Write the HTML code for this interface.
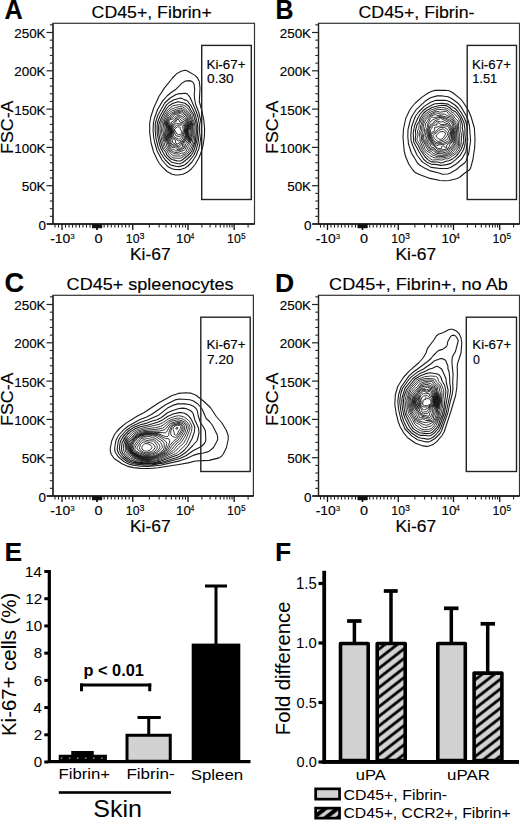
<!DOCTYPE html>
<html><head><meta charset="utf-8"><style>
html,body{margin:0;padding:0;background:#fff;}
svg{display:block;}
text{font-family:"Liberation Sans",sans-serif;stroke:#000;stroke-width:0.15px;}
text.ef{stroke:none;}
</style></head><body>
<svg width="520" height="821" viewBox="0 0 520 821">
<defs>
<pattern id="hatch" patternUnits="userSpaceOnUse" x="0" y="0" width="20" height="7.57" patternTransform="rotate(-37.95)">
<rect width="20" height="7.57" fill="#d4d4d4"/>
<rect y="1.65" width="20" height="2.8" fill="#000"/>
</pattern>
<pattern id="hatch2" patternUnits="userSpaceOnUse" x="0" y="0" width="20" height="7.57" patternTransform="rotate(-37.95)">
<rect width="20" height="7.57" fill="#000"/>
<rect y="0" width="20" height="2.75" fill="#d4d4d4"/><rect y="6.92" width="20" height="0.7" fill="#d4d4d4"/>
</pattern>
<filter id="soft" x="-20%" y="-20%" width="140%" height="140%"><feGaussianBlur stdDeviation="0.9"/></filter></defs>
<rect width="520" height="821" fill="#fff"/>
<path d="M181.0,158.0 180.0,158.3 174.0,158.0 172.0,157.5 168.6,154.0 167.1,151.0 164.5,148.3 163.6,146.5 162.8,143.0 161.6,140.0 161.3,137.0 160.4,134.5 160.1,128.5 160.4,124.5 162.4,119.0 165.1,114.0 168.1,109.5 173.0,105.7 179.5,104.6 184.0,105.3 187.7,108.0 191.9,114.5 192.5,117.5 194.3,122.5 195.0,126.5 194.8,136.0 194.2,141.5 193.7,143.0 189.6,151.5 186.5,154.5 181.0,158.0 M180.5,156.1 173.0,155.8 169.5,152.1 165.8,147.5 165.0,146.0 164.2,142.5 162.8,139.5 162.8,136.5 161.7,133.5 161.5,129.5 162.2,123.5 163.4,120.0 166.6,114.0 168.5,111.5 170.0,110.0 172.0,108.9 175.5,107.5 180.0,106.6 182.5,106.9 184.7,108.0 190.0,114.0 193.1,122.5 193.8,126.5 193.7,135.5 192.5,142.5 189.7,147.5 188.5,150.5 187.4,152.0 185.5,153.7 180.5,156.1 M179.0,154.1 173.5,153.7 170.0,151.0 168.8,149.5 166.8,146.0 165.9,142.5 163.9,139.5 163.8,136.0 162.7,129.5 164.6,120.0 168.0,113.9 169.5,112.4 171.8,111.0 176.5,109.2 180.5,108.4 182.5,108.7 183.9,109.5 187.0,112.3 189.5,115.5 192.5,124.0 192.7,134.5 191.1,141.5 188.2,146.5 186.0,151.5 184.0,153.0 181.5,153.2 179.0,154.1 M177.5,152.6 174.0,152.2 170.5,150.0 169.5,148.8 167.0,142.0 164.9,139.0 164.0,129.5 165.0,126.5 165.0,123.0 165.6,120.5 169.2,114.5 175.0,111.1 181.5,109.8 183.5,110.7 186.5,113.5 188.9,116.5 189.5,119.5 191.0,122.0 191.7,124.0 191.6,135.0 189.6,142.0 187.0,145.1 185.1,149.5 184.0,150.3 177.5,152.6 M177.0,151.0 175.5,150.7 173.8,149.5 171.5,149.1 170.5,148.4 167.7,141.0 165.9,138.5 165.4,135.0 165.3,130.0 166.7,126.0 166.2,122.5 167.4,119.0 171.5,114.5 175.0,112.3 181.5,110.9 183.0,111.7 187.8,116.5 188.4,120.0 190.5,123.3 190.8,125.5 190.2,132.0 190.4,135.0 188.7,141.5 186.0,143.5 184.3,148.0 181.5,149.8 177.0,151.0 M178.5,149.5 177.0,149.5 175.0,147.3 172.0,147.4 171.0,146.7 169.2,143.0 168.6,140.5 166.6,137.5 166.2,135.0 166.4,130.0 168.1,125.5 167.1,122.0 167.4,120.5 168.5,118.7 171.0,116.9 173.0,114.5 174.5,113.5 181.5,112.0 182.5,112.6 187.0,117.0 187.5,120.5 189.6,124.5 189.9,127.5 188.8,131.0 189.1,135.0 187.6,140.5 185.5,141.9 183.9,143.5 184.0,146.0 183.3,147.5 181.0,149.1 178.5,149.5 M180.5,148.1 178.0,148.2 175.5,146.3 172.5,146.0 171.7,145.5 170.0,142.6 169.5,139.7 167.8,137.0 167.3,134.0 167.5,129.5 169.3,125.0 168.0,122.0 168.5,119.9 169.5,118.9 172.7,117.5 174.0,115.3 175.0,114.5 180.5,113.5 181.5,113.8 185.7,117.5 188.7,125.5 188.9,127.0 187.8,130.5 188.1,134.5 186.5,139.0 185.2,141.0 182.5,143.5 182.5,146.5 181.7,147.5 180.5,148.1 M179.5,146.7 178.0,146.8 175.5,145.2 173.0,144.8 172.0,144.2 171.0,142.5 170.7,139.5 168.9,136.0 168.3,134.0 168.5,129.0 170.2,125.0 170.0,123.7 169.0,121.9 169.1,120.5 170.0,119.7 173.5,118.9 176.8,115.5 178.0,115.0 182.0,116.4 184.7,118.5 186.7,122.5 187.9,127.0 187.1,130.5 187.4,133.5 187.2,135.0 184.7,140.5 181.6,143.0 180.7,146.0 179.5,146.7 M178.5,145.5 177.5,145.4 172.5,142.6 172.3,140.0 169.8,135.5 169.3,133.5 169.4,129.0 171.0,125.5 171.3,122.0 173.5,121.0 176.5,117.5 178.5,116.5 180.5,117.3 185.0,120.8 186.0,123.0 186.9,127.5 186.5,130.5 186.7,134.0 184.2,140.0 183.5,141.0 180.7,142.5 179.5,144.8 178.5,145.5 M178.0,144.0 177.0,143.9 175.8,143.0 175.4,142.0 175.7,140.5 173.0,138.8 171.6,137.0 170.6,134.5 170.2,129.5 172.6,123.5 174.8,121.5 176.5,118.6 178.0,117.8 179.5,118.3 181.5,120.7 184.0,121.7 185.0,122.8 186.0,127.5 186.1,132.5 186.0,133.5 183.2,140.0 182.5,140.7 179.7,142.0 178.0,144.0 M180.0,140.6 178.5,140.9 173.1,137.5 171.9,135.0 171.0,129.5 173.5,124.0 175.7,122.0 177.0,119.7 178.0,119.2 179.0,120.0 179.7,122.0 183.0,122.7 184.1,123.5 185.3,128.5 185.1,133.0 184.0,134.5 182.0,139.3 180.0,140.6 M179.5,139.1 178.5,139.1 174.4,137.0 173.4,135.0 172.0,130.0 172.2,128.5 174.7,124.5 176.5,123.2 179.0,123.9 182.5,123.9 183.5,124.8 184.0,126.5 184.5,130.0 184.4,132.0 181.6,137.0 179.5,139.1 M180.5,136.1 179.0,136.5 176.0,135.8 173.4,131.0 173.1,129.5 173.4,128.5 176.5,125.2 181.5,125.0 182.7,126.0 183.3,131.5 181.8,134.5 180.5,136.1 M180.0,134.6 178.5,134.7 176.9,134.0 174.5,130.0 175.0,128.5 177.5,126.9 179.9,127.0 180.5,127.5 180.0,129.0 181.5,130.9 181.9,132.0 181.3,133.5 180.0,134.6" fill="none" stroke="#222" stroke-width="0.9" stroke-linejoin="round"/><path d="M178.5,175.0 175.5,175.0 172.0,174.2 167.0,171.5 162.0,166.7 159.4,163.5 157.6,160.5 153.6,152.0 151.1,143.0 149.7,133.0 149.7,123.0 150.9,116.5 153.7,108.0 158.9,96.5 164.5,87.9 172.5,78.0 176.5,73.9 181.0,71.2 185.0,70.2 187.0,70.7 195.0,75.4 197.6,78.0 199.3,81.5 200.0,88.0 199.3,101.5 202.2,112.0 203.8,120.0 204.6,128.5 204.4,136.5 203.3,144.0 201.7,150.5 199.1,157.5 195.4,164.0 191.3,169.0 187.5,172.1 183.0,174.3 178.5,175.0 M180.5,169.6 175.0,169.5 172.0,168.7 169.0,167.3 167.2,166.0 162.0,160.0 157.1,151.0 154.6,142.0 153.6,137.0 153.1,130.5 153.4,123.0 154.3,118.5 157.6,109.5 162.5,101.1 167.0,96.0 170.5,93.0 176.0,89.2 182.0,83.1 185.5,81.0 189.0,80.6 191.0,81.1 192.6,82.0 193.7,83.5 194.2,85.0 194.7,90.0 194.2,94.5 194.8,100.5 195.7,104.5 198.8,112.5 200.6,120.0 201.4,125.5 201.4,132.5 199.8,144.5 198.7,149.0 195.9,156.0 191.9,162.0 188.0,166.0 185.0,168.0 180.5,169.6 M179.0,166.6 177.0,166.5 172.0,165.4 169.9,164.5 165.3,160.0 161.2,154.0 158.2,147.5 155.9,138.0 155.2,130.5 155.3,123.5 157.7,115.5 164.7,103.0 170.1,98.0 176.0,94.6 178.0,93.9 185.5,93.2 187.4,94.0 190.0,97.3 196.4,112.0 198.0,117.0 199.4,124.5 199.4,132.0 198.0,143.0 196.1,150.0 193.7,155.5 188.5,161.6 185.3,164.5 183.5,165.4 179.0,166.6 M180.0,163.6 178.0,163.8 171.5,162.2 167.0,158.2 164.8,155.5 160.7,148.0 158.9,142.0 157.2,133.5 157.1,125.5 157.5,122.5 160.0,116.0 166.5,104.9 170.0,101.9 174.0,99.7 180.5,98.0 182.0,98.4 184.0,99.6 187.0,100.5 191.0,105.7 194.5,112.6 195.8,116.5 197.3,123.0 197.8,128.0 197.2,138.0 196.6,141.5 194.4,149.0 192.7,153.0 191.0,155.5 186.5,159.5 182.5,162.7 180.0,163.6 M181.5,160.5 180.0,161.0 177.0,160.9 172.0,159.5 170.4,158.5 167.0,155.2 165.7,152.0 163.5,149.5 162.4,147.5 160.1,140.0 158.8,134.0 158.6,127.0 158.9,124.0 161.5,117.5 164.2,112.5 167.0,108.0 168.8,106.0 172.5,103.5 178.0,101.7 185.0,103.3 189.0,106.5 190.7,110.0 193.3,114.0 195.8,122.5 196.3,126.5 196.4,131.0 195.3,141.5 191.8,151.0 190.8,152.5 187.8,155.5 181.5,160.5" fill="none" stroke="#1a1a1a" stroke-width="1.1" stroke-linejoin="round"/>
<rect x="53.00" y="23.30" width="201.50" height="200.70" fill="none" stroke="#333" stroke-width="1.2"/>
<line x1="53.00" y1="23.30" x2="53.00" y2="224.00" stroke="#222" stroke-width="1.3" stroke-linecap="butt"/>
<line x1="47.00" y1="224.00" x2="254.50" y2="224.00" stroke="#111" stroke-width="1.4" stroke-linecap="butt"/>
<line x1="46.50" y1="224.00" x2="53.00" y2="224.00" stroke="#222" stroke-width="1.2" stroke-linecap="butt"/>
<line x1="49.80" y1="216.34" x2="53.00" y2="216.34" stroke="#2a2a2a" stroke-width="1.1" stroke-linecap="butt"/>
<line x1="49.80" y1="208.68" x2="53.00" y2="208.68" stroke="#2a2a2a" stroke-width="1.1" stroke-linecap="butt"/>
<line x1="49.80" y1="201.02" x2="53.00" y2="201.02" stroke="#2a2a2a" stroke-width="1.1" stroke-linecap="butt"/>
<line x1="49.80" y1="193.36" x2="53.00" y2="193.36" stroke="#2a2a2a" stroke-width="1.1" stroke-linecap="butt"/>
<line x1="46.50" y1="185.70" x2="53.00" y2="185.70" stroke="#222" stroke-width="1.2" stroke-linecap="butt"/>
<line x1="49.80" y1="178.04" x2="53.00" y2="178.04" stroke="#2a2a2a" stroke-width="1.1" stroke-linecap="butt"/>
<line x1="49.80" y1="170.38" x2="53.00" y2="170.38" stroke="#2a2a2a" stroke-width="1.1" stroke-linecap="butt"/>
<line x1="49.80" y1="162.72" x2="53.00" y2="162.72" stroke="#2a2a2a" stroke-width="1.1" stroke-linecap="butt"/>
<line x1="49.80" y1="155.06" x2="53.00" y2="155.06" stroke="#2a2a2a" stroke-width="1.1" stroke-linecap="butt"/>
<line x1="46.50" y1="147.40" x2="53.00" y2="147.40" stroke="#222" stroke-width="1.2" stroke-linecap="butt"/>
<line x1="49.80" y1="139.74" x2="53.00" y2="139.74" stroke="#2a2a2a" stroke-width="1.1" stroke-linecap="butt"/>
<line x1="49.80" y1="132.08" x2="53.00" y2="132.08" stroke="#2a2a2a" stroke-width="1.1" stroke-linecap="butt"/>
<line x1="49.80" y1="124.42" x2="53.00" y2="124.42" stroke="#2a2a2a" stroke-width="1.1" stroke-linecap="butt"/>
<line x1="49.80" y1="116.76" x2="53.00" y2="116.76" stroke="#2a2a2a" stroke-width="1.1" stroke-linecap="butt"/>
<line x1="46.50" y1="109.10" x2="53.00" y2="109.10" stroke="#222" stroke-width="1.2" stroke-linecap="butt"/>
<line x1="49.80" y1="101.44" x2="53.00" y2="101.44" stroke="#2a2a2a" stroke-width="1.1" stroke-linecap="butt"/>
<line x1="49.80" y1="93.78" x2="53.00" y2="93.78" stroke="#2a2a2a" stroke-width="1.1" stroke-linecap="butt"/>
<line x1="49.80" y1="86.12" x2="53.00" y2="86.12" stroke="#2a2a2a" stroke-width="1.1" stroke-linecap="butt"/>
<line x1="49.80" y1="78.46" x2="53.00" y2="78.46" stroke="#2a2a2a" stroke-width="1.1" stroke-linecap="butt"/>
<line x1="46.50" y1="70.80" x2="53.00" y2="70.80" stroke="#222" stroke-width="1.2" stroke-linecap="butt"/>
<line x1="49.80" y1="63.14" x2="53.00" y2="63.14" stroke="#2a2a2a" stroke-width="1.1" stroke-linecap="butt"/>
<line x1="49.80" y1="55.48" x2="53.00" y2="55.48" stroke="#2a2a2a" stroke-width="1.1" stroke-linecap="butt"/>
<line x1="49.80" y1="47.82" x2="53.00" y2="47.82" stroke="#2a2a2a" stroke-width="1.1" stroke-linecap="butt"/>
<line x1="49.80" y1="40.16" x2="53.00" y2="40.16" stroke="#2a2a2a" stroke-width="1.1" stroke-linecap="butt"/>
<line x1="46.50" y1="32.50" x2="53.00" y2="32.50" stroke="#222" stroke-width="1.2" stroke-linecap="butt"/>
<line x1="49.80" y1="24.84" x2="53.00" y2="24.84" stroke="#2a2a2a" stroke-width="1.1" stroke-linecap="butt"/>
<line x1="62.00" y1="224.00" x2="62.00" y2="230.00" stroke="#111" stroke-width="1.3" stroke-linecap="butt"/>
<line x1="97.00" y1="224.00" x2="97.00" y2="230.00" stroke="#111" stroke-width="1.3" stroke-linecap="butt"/>
<line x1="132.75" y1="224.00" x2="132.75" y2="230.00" stroke="#111" stroke-width="1.3" stroke-linecap="butt"/>
<line x1="188.00" y1="224.00" x2="188.00" y2="230.00" stroke="#111" stroke-width="1.3" stroke-linecap="butt"/>
<line x1="234.20" y1="224.00" x2="234.20" y2="230.00" stroke="#111" stroke-width="1.3" stroke-linecap="butt"/>
<line x1="93.50" y1="224.00" x2="93.50" y2="227.60" stroke="#222" stroke-width="1.1" stroke-linecap="butt"/>
<line x1="100.58" y1="224.00" x2="100.58" y2="227.60" stroke="#222" stroke-width="1.1" stroke-linecap="butt"/>
<line x1="90.00" y1="224.00" x2="90.00" y2="227.60" stroke="#222" stroke-width="1.1" stroke-linecap="butt"/>
<line x1="104.15" y1="224.00" x2="104.15" y2="227.60" stroke="#222" stroke-width="1.1" stroke-linecap="butt"/>
<line x1="149.38" y1="224.00" x2="149.38" y2="227.60" stroke="#222" stroke-width="1.1" stroke-linecap="butt"/>
<line x1="201.91" y1="224.00" x2="201.91" y2="227.60" stroke="#222" stroke-width="1.1" stroke-linecap="butt"/>
<line x1="86.50" y1="224.00" x2="86.50" y2="227.60" stroke="#222" stroke-width="1.1" stroke-linecap="butt"/>
<line x1="107.72" y1="224.00" x2="107.72" y2="227.60" stroke="#222" stroke-width="1.1" stroke-linecap="butt"/>
<line x1="159.11" y1="224.00" x2="159.11" y2="227.60" stroke="#222" stroke-width="1.1" stroke-linecap="butt"/>
<line x1="210.04" y1="224.00" x2="210.04" y2="227.60" stroke="#222" stroke-width="1.1" stroke-linecap="butt"/>
<line x1="83.00" y1="224.00" x2="83.00" y2="227.60" stroke="#222" stroke-width="1.1" stroke-linecap="butt"/>
<line x1="111.30" y1="224.00" x2="111.30" y2="227.60" stroke="#222" stroke-width="1.1" stroke-linecap="butt"/>
<line x1="166.01" y1="224.00" x2="166.01" y2="227.60" stroke="#222" stroke-width="1.1" stroke-linecap="butt"/>
<line x1="215.82" y1="224.00" x2="215.82" y2="227.60" stroke="#222" stroke-width="1.1" stroke-linecap="butt"/>
<line x1="79.50" y1="224.00" x2="79.50" y2="227.60" stroke="#222" stroke-width="1.1" stroke-linecap="butt"/>
<line x1="114.88" y1="224.00" x2="114.88" y2="227.60" stroke="#222" stroke-width="1.1" stroke-linecap="butt"/>
<line x1="171.37" y1="224.00" x2="171.37" y2="227.60" stroke="#222" stroke-width="1.1" stroke-linecap="butt"/>
<line x1="220.29" y1="224.00" x2="220.29" y2="227.60" stroke="#222" stroke-width="1.1" stroke-linecap="butt"/>
<line x1="76.00" y1="224.00" x2="76.00" y2="227.60" stroke="#222" stroke-width="1.1" stroke-linecap="butt"/>
<line x1="118.45" y1="224.00" x2="118.45" y2="227.60" stroke="#222" stroke-width="1.1" stroke-linecap="butt"/>
<line x1="175.74" y1="224.00" x2="175.74" y2="227.60" stroke="#222" stroke-width="1.1" stroke-linecap="butt"/>
<line x1="223.95" y1="224.00" x2="223.95" y2="227.60" stroke="#222" stroke-width="1.1" stroke-linecap="butt"/>
<line x1="72.50" y1="224.00" x2="72.50" y2="227.60" stroke="#222" stroke-width="1.1" stroke-linecap="butt"/>
<line x1="122.03" y1="224.00" x2="122.03" y2="227.60" stroke="#222" stroke-width="1.1" stroke-linecap="butt"/>
<line x1="179.44" y1="224.00" x2="179.44" y2="227.60" stroke="#222" stroke-width="1.1" stroke-linecap="butt"/>
<line x1="227.04" y1="224.00" x2="227.04" y2="227.60" stroke="#222" stroke-width="1.1" stroke-linecap="butt"/>
<line x1="69.00" y1="224.00" x2="69.00" y2="227.60" stroke="#222" stroke-width="1.1" stroke-linecap="butt"/>
<line x1="125.60" y1="224.00" x2="125.60" y2="227.60" stroke="#222" stroke-width="1.1" stroke-linecap="butt"/>
<line x1="182.65" y1="224.00" x2="182.65" y2="227.60" stroke="#222" stroke-width="1.1" stroke-linecap="butt"/>
<line x1="229.72" y1="224.00" x2="229.72" y2="227.60" stroke="#222" stroke-width="1.1" stroke-linecap="butt"/>
<line x1="65.50" y1="224.00" x2="65.50" y2="227.60" stroke="#222" stroke-width="1.1" stroke-linecap="butt"/>
<line x1="129.18" y1="224.00" x2="129.18" y2="227.60" stroke="#222" stroke-width="1.1" stroke-linecap="butt"/>
<line x1="185.47" y1="224.00" x2="185.47" y2="227.60" stroke="#222" stroke-width="1.1" stroke-linecap="butt"/>
<line x1="232.09" y1="224.00" x2="232.09" y2="227.60" stroke="#222" stroke-width="1.1" stroke-linecap="butt"/>
<line x1="248.11" y1="224.00" x2="248.11" y2="227.60" stroke="#222" stroke-width="1.1" stroke-linecap="butt"/>
<line x1="58.50" y1="224.00" x2="58.50" y2="227.60" stroke="#222" stroke-width="1.1" stroke-linecap="butt"/>
<line x1="55.00" y1="224.00" x2="55.00" y2="227.60" stroke="#222" stroke-width="1.1" stroke-linecap="butt"/>
<rect x="92.00" y="224.00" width="10.20" height="4.20" fill="#111"/>
<line x1="97.00" y1="224.00" x2="97.00" y2="230.00" stroke="#111" stroke-width="1.4" stroke-linecap="butt"/>
<text font-size="13.43" transform="translate(38.45,229.52)" fill="#000">0</text>
<text font-size="13.43" transform="translate(21.67,191.22)" fill="#000">50K</text>
<text font-size="13.43" transform="translate(14.21,152.92)" fill="#000">100K</text>
<text font-size="13.43" transform="translate(14.21,114.62)" fill="#000">150K</text>
<text font-size="13.43" transform="translate(14.21,76.32)" fill="#000">200K</text>
<text font-size="13.43" transform="translate(14.21,38.02)" fill="#000">250K</text>
<text font-size="13.43" transform="translate(50.17,242.67) scale(1.0385,1)" fill="#000">-10</text>
<text font-size="7.92" transform="translate(70.52,238.52) scale(0.9309,1)" fill="#000">3</text>
<text font-size="13.29" transform="translate(94.62,242.67) scale(1.0876,1)" fill="#000">0</text>
<text font-size="13.43" transform="translate(125.83,242.67) scale(0.9146,1)" fill="#000">10</text>
<text font-size="8.48" transform="translate(139.41,238.52) scale(1.0550,1)" fill="#000">3</text>
<text font-size="13.43" transform="translate(176.00,242.67) scale(0.9930,1)" fill="#000">10</text>
<text font-size="8.73" transform="translate(190.45,238.60) scale(0.7715,1)" fill="#000">4</text>
<text font-size="13.43" transform="translate(227.08,242.67) scale(0.9146,1)" fill="#000">10</text>
<text font-size="8.60" transform="translate(240.91,238.51) scale(0.9789,1)" fill="#000">5</text>
<text font-size="15.65" transform="translate(129.96,259.84) scale(1.1156,1)" fill="#000">Ki-67</text>
<text font-size="16.68" transform="translate(12.93,153.97) rotate(-90) scale(1.0675,1)" fill="#000">FSC-A</text>
<rect x="201.70" y="45.40" width="49.60" height="154.10" fill="none" stroke="#222" stroke-width="1.4"/>
<text font-size="12.65" transform="translate(206.50,68.97) scale(1.0547,1)" fill="#000">Ki-67+</text>
<text font-size="13.29" transform="translate(207.05,83.47) scale(1.0277,1)" fill="#000">0.30</text>
<text font-size="17.13" transform="translate(91.61,18.22) scale(1.0354,1)" fill="#000">CD45+, Fibrin+</text>
<text font-weight="bold" font-size="27.78" transform="translate(4.47,18.70) scale(0.9079,1)" fill="#000">A</text>
<path d="M442.0,160.1 438.0,159.7 432.5,160.0 431.0,159.3 426.5,155.5 424.5,153.5 422.5,150.5 419.9,144.5 417.3,140.5 416.9,139.0 418.0,135.0 417.4,131.0 418.8,128.5 419.2,124.5 421.5,119.0 424.5,114.7 430.5,110.2 437.0,107.9 441.5,107.4 446.0,108.1 448.5,109.0 451.0,111.5 454.1,113.5 458.5,118.5 460.0,122.0 460.4,125.5 460.2,129.5 461.2,133.0 461.5,136.0 461.5,141.5 460.9,145.0 459.1,149.5 456.5,153.2 449.0,158.4 447.5,158.8 445.0,158.8 442.0,160.1 M442.0,158.0 434.0,157.8 429.7,155.5 425.0,151.7 423.6,149.5 420.1,141.0 419.9,137.0 419.1,132.5 420.4,129.0 420.6,126.0 421.5,123.0 422.5,119.9 423.7,118.0 426.3,115.0 430.0,112.3 437.5,109.3 446.0,109.9 448.0,110.6 450.0,113.0 453.0,114.9 455.0,118.3 458.0,121.0 458.5,122.5 458.6,129.5 459.7,136.0 459.8,144.0 459.1,146.5 455.4,152.0 454.5,152.9 448.5,156.7 442.0,158.0 M443.0,156.5 436.0,156.3 432.0,154.7 430.0,152.8 426.6,151.0 425.4,149.5 421.4,140.0 421.6,137.0 420.6,133.0 421.7,130.0 421.8,127.0 422.5,124.0 424.2,119.5 428.6,115.0 432.5,112.8 436.5,111.2 440.0,112.2 445.5,111.4 447.0,111.7 448.8,114.5 452.0,116.2 454.5,120.1 456.9,122.5 457.2,123.5 458.6,144.0 458.1,146.0 457.1,147.5 455.3,149.0 453.5,151.5 451.0,153.6 447.5,155.5 443.0,156.5 M445.0,155.1 442.0,155.4 437.0,155.0 433.0,153.2 431.3,151.5 428.0,150.1 422.7,140.0 422.7,137.0 422.1,133.5 423.0,130.5 423.2,127.0 424.0,123.3 425.7,120.0 429.0,116.2 432.5,114.1 435.5,112.9 437.0,113.0 440.0,114.1 445.0,114.1 447.0,115.7 450.5,116.8 455.4,123.0 456.1,124.5 457.3,145.0 456.5,146.2 454.0,148.1 452.1,151.0 450.5,152.5 446.9,154.5 445.0,155.1 M445.0,154.0 437.0,153.4 435.0,152.4 433.0,150.3 429.5,149.3 426.3,144.5 423.9,140.0 423.6,135.0 424.3,132.5 424.5,128.7 425.4,126.5 425.4,124.0 427.6,121.0 429.5,117.3 431.0,116.1 433.5,115.0 435.5,114.7 438.0,115.6 441.5,115.7 449.5,117.9 452.8,121.0 455.2,125.5 455.5,127.5 455.2,130.5 455.8,133.0 456.0,144.5 452.9,147.5 450.5,150.8 446.5,153.5 445.0,154.0 M445.5,152.6 441.5,152.0 438.0,152.3 436.3,152.0 434.0,149.3 431.0,148.7 429.8,148.0 428.4,145.0 426.0,141.5 425.7,139.5 426.7,138.0 425.0,135.5 426.0,132.5 426.0,129.5 427.4,127.0 427.4,124.5 427.7,123.5 429.4,121.0 430.2,118.5 431.5,117.3 432.5,117.1 434.5,117.5 440.0,116.5 441.5,116.7 448.0,119.0 451.5,121.0 453.0,123.0 454.4,127.5 454.2,130.5 454.9,135.5 455.0,143.5 454.2,145.0 450.5,149.0 445.5,152.6 M445.0,151.0 442.0,150.9 438.0,151.3 436.8,151.0 434.0,147.9 431.0,146.9 429.5,143.0 427.7,141.5 428.3,138.5 427.1,134.5 427.2,130.0 428.6,127.0 428.8,124.0 432.5,119.7 440.0,117.3 441.0,117.3 445.5,119.2 450.8,122.0 451.6,123.0 453.5,128.0 453.4,131.0 454.1,136.0 454.1,140.5 453.6,143.5 450.0,148.0 445.0,151.0 M440.5,150.0 437.5,149.8 433.5,145.6 431.5,144.5 430.7,142.0 429.5,139.9 428.5,135.0 428.1,130.0 429.7,127.0 430.5,124.5 432.5,123.7 434.0,121.5 436.0,120.3 438.5,119.5 440.5,118.2 449.0,122.7 450.2,125.0 452.1,127.0 452.6,128.5 453.3,138.5 452.8,141.0 449.9,144.5 449.2,146.5 448.1,148.0 445.5,149.4 440.5,150.0 M441.5,148.5 440.0,148.7 437.0,148.0 435.6,147.0 434.3,145.0 432.5,143.9 430.3,139.5 429.3,136.0 429.4,132.0 429.0,130.0 429.4,129.0 431.5,125.7 433.5,124.3 435.6,122.0 437.5,121.2 441.5,122.0 443.0,121.5 445.5,123.0 448.0,123.8 451.5,128.0 452.2,131.5 452.0,135.0 452.4,138.5 451.8,140.5 450.0,142.7 446.9,145.0 446.5,146.0 446.6,147.5 446.0,148.0 445.0,147.8 444.7,146.5 444.2,146.0 442.5,145.9 441.5,146.5 441.9,148.0 441.5,148.5 M437.0,145.8 436.5,145.8 432.9,143.0 431.4,140.0 430.0,136.0 430.5,129.8 431.7,128.5 432.4,126.5 433.5,125.5 435.0,124.9 437.0,125.1 436.9,123.5 437.5,122.7 439.0,123.0 441.0,124.7 444.5,124.3 447.5,125.0 449.6,127.0 451.5,131.5 451.4,138.5 450.8,140.0 449.5,141.8 447.5,143.0 443.8,144.5 438.5,144.9 437.0,145.8 M437.0,144.0 436.0,143.8 433.0,141.8 430.7,136.0 430.9,134.0 431.5,132.6 434.9,130.5 434.5,127.5 435.0,127.2 437.0,127.2 439.5,126.2 444.0,125.6 447.5,126.4 448.6,127.5 450.7,132.0 449.4,140.0 448.0,141.4 442.5,143.5 437.0,144.0 M440.0,142.6 437.0,142.8 434.0,141.0 431.8,136.5 431.7,134.5 432.5,133.4 436.0,131.7 438.5,128.3 440.0,127.7 444.0,127.2 447.7,129.5 449.1,133.0 448.9,135.5 447.5,139.2 444.5,141.0 440.0,142.6 M438.5,141.5 436.9,141.0 434.5,138.3 433.3,136.5 433.2,135.5 433.9,134.5 436.5,132.8 439.0,130.2 442.0,129.1 443.5,129.1 446.9,132.0 447.5,133.5 447.5,135.1 443.5,139.9 438.5,141.5 M441.5,139.1 440.0,139.4 439.0,139.1 436.3,137.0 436.0,136.0 436.4,135.0 439.5,132.2 441.0,131.6 443.0,131.5 445.1,132.5 445.6,134.0 443.5,137.5 441.5,139.1" fill="none" stroke="#222" stroke-width="0.9" stroke-linejoin="round"/><path d="M449.0,180.5 445.0,180.8 440.0,180.5 430.0,178.4 420.0,174.8 415.5,172.8 412.8,170.0 408.7,164.0 405.6,156.5 404.2,151.0 403.0,137.5 403.5,129.0 405.7,118.5 409.5,110.5 411.8,107.0 415.3,103.0 422.0,97.1 428.5,92.7 432.0,91.2 435.0,90.4 445.5,90.2 449.0,90.7 452.5,92.5 460.5,98.9 463.1,102.0 468.7,111.0 470.8,116.0 474.4,128.0 475.0,138.5 474.7,147.5 472.9,159.5 470.5,168.3 469.0,170.3 464.8,173.0 459.4,177.5 456.5,178.7 449.0,180.5 M447.5,174.0 442.5,174.2 439.0,173.0 429.5,170.6 424.5,168.1 419.5,165.0 417.5,163.0 411.4,153.0 408.5,144.0 407.8,136.5 408.0,129.5 410.5,119.5 412.3,115.5 416.5,109.3 425.0,101.3 430.5,97.8 437.0,95.9 441.0,95.7 448.0,96.8 452.0,98.8 458.0,103.2 461.0,106.9 466.4,116.0 468.2,120.5 469.4,125.5 470.6,140.5 468.7,153.5 466.0,161.0 464.6,163.0 459.5,166.8 456.5,169.5 450.0,173.2 447.5,174.0 M447.5,168.5 440.0,168.5 431.0,167.4 423.0,162.4 421.5,161.0 417.0,155.0 413.1,146.5 411.2,141.5 410.8,135.5 411.5,127.0 414.5,118.5 415.9,115.5 418.6,112.0 424.5,106.1 431.0,102.0 435.5,100.4 445.5,100.3 449.5,101.5 455.0,105.0 458.0,108.0 461.1,112.5 464.1,117.5 466.1,122.5 467.2,129.5 467.1,134.5 467.8,139.5 465.7,152.0 462.0,158.7 457.0,163.5 450.5,167.5 447.5,168.5 M443.0,165.1 440.5,165.4 437.5,164.6 431.0,164.1 427.5,162.6 423.8,159.5 419.0,151.8 413.7,142.0 413.2,133.0 414.6,125.5 417.6,118.5 420.1,114.0 423.5,110.3 426.5,108.0 433.5,104.3 435.5,103.7 442.0,103.2 448.0,104.1 455.5,109.0 457.0,110.5 461.2,116.5 464.1,123.0 465.0,130.0 464.9,135.0 465.6,139.5 464.9,145.0 463.5,149.8 460.1,155.5 456.0,159.4 451.0,163.4 446.5,164.6 443.0,165.1 M443.0,162.5 441.0,163.0 438.0,162.0 432.0,161.9 430.0,161.1 428.5,160.1 425.2,157.0 420.4,150.0 418.3,145.5 415.7,141.5 415.2,139.0 415.8,135.0 415.4,131.0 416.9,125.0 419.1,121.5 420.3,118.0 423.3,113.5 426.0,111.0 432.0,107.5 437.5,106.0 442.0,105.2 446.0,105.6 449.6,107.5 452.1,110.0 455.8,112.0 460.0,117.5 462.4,124.5 462.3,128.5 462.9,131.0 463.8,140.5 463.3,143.5 461.3,149.0 458.0,154.0 455.0,157.1 452.5,158.9 449.0,160.7 446.0,161.2 443.0,162.5" fill="none" stroke="#1a1a1a" stroke-width="1.1" stroke-linejoin="round"/>
<rect x="318.50" y="23.30" width="201.00" height="200.70" fill="none" stroke="#333" stroke-width="1.2"/>
<line x1="318.50" y1="23.30" x2="318.50" y2="224.00" stroke="#222" stroke-width="1.3" stroke-linecap="butt"/>
<line x1="312.50" y1="224.00" x2="519.50" y2="224.00" stroke="#111" stroke-width="1.4" stroke-linecap="butt"/>
<line x1="312.00" y1="224.00" x2="318.50" y2="224.00" stroke="#222" stroke-width="1.2" stroke-linecap="butt"/>
<line x1="315.30" y1="216.34" x2="318.50" y2="216.34" stroke="#2a2a2a" stroke-width="1.1" stroke-linecap="butt"/>
<line x1="315.30" y1="208.68" x2="318.50" y2="208.68" stroke="#2a2a2a" stroke-width="1.1" stroke-linecap="butt"/>
<line x1="315.30" y1="201.02" x2="318.50" y2="201.02" stroke="#2a2a2a" stroke-width="1.1" stroke-linecap="butt"/>
<line x1="315.30" y1="193.36" x2="318.50" y2="193.36" stroke="#2a2a2a" stroke-width="1.1" stroke-linecap="butt"/>
<line x1="312.00" y1="185.70" x2="318.50" y2="185.70" stroke="#222" stroke-width="1.2" stroke-linecap="butt"/>
<line x1="315.30" y1="178.04" x2="318.50" y2="178.04" stroke="#2a2a2a" stroke-width="1.1" stroke-linecap="butt"/>
<line x1="315.30" y1="170.38" x2="318.50" y2="170.38" stroke="#2a2a2a" stroke-width="1.1" stroke-linecap="butt"/>
<line x1="315.30" y1="162.72" x2="318.50" y2="162.72" stroke="#2a2a2a" stroke-width="1.1" stroke-linecap="butt"/>
<line x1="315.30" y1="155.06" x2="318.50" y2="155.06" stroke="#2a2a2a" stroke-width="1.1" stroke-linecap="butt"/>
<line x1="312.00" y1="147.40" x2="318.50" y2="147.40" stroke="#222" stroke-width="1.2" stroke-linecap="butt"/>
<line x1="315.30" y1="139.74" x2="318.50" y2="139.74" stroke="#2a2a2a" stroke-width="1.1" stroke-linecap="butt"/>
<line x1="315.30" y1="132.08" x2="318.50" y2="132.08" stroke="#2a2a2a" stroke-width="1.1" stroke-linecap="butt"/>
<line x1="315.30" y1="124.42" x2="318.50" y2="124.42" stroke="#2a2a2a" stroke-width="1.1" stroke-linecap="butt"/>
<line x1="315.30" y1="116.76" x2="318.50" y2="116.76" stroke="#2a2a2a" stroke-width="1.1" stroke-linecap="butt"/>
<line x1="312.00" y1="109.10" x2="318.50" y2="109.10" stroke="#222" stroke-width="1.2" stroke-linecap="butt"/>
<line x1="315.30" y1="101.44" x2="318.50" y2="101.44" stroke="#2a2a2a" stroke-width="1.1" stroke-linecap="butt"/>
<line x1="315.30" y1="93.78" x2="318.50" y2="93.78" stroke="#2a2a2a" stroke-width="1.1" stroke-linecap="butt"/>
<line x1="315.30" y1="86.12" x2="318.50" y2="86.12" stroke="#2a2a2a" stroke-width="1.1" stroke-linecap="butt"/>
<line x1="315.30" y1="78.46" x2="318.50" y2="78.46" stroke="#2a2a2a" stroke-width="1.1" stroke-linecap="butt"/>
<line x1="312.00" y1="70.80" x2="318.50" y2="70.80" stroke="#222" stroke-width="1.2" stroke-linecap="butt"/>
<line x1="315.30" y1="63.14" x2="318.50" y2="63.14" stroke="#2a2a2a" stroke-width="1.1" stroke-linecap="butt"/>
<line x1="315.30" y1="55.48" x2="318.50" y2="55.48" stroke="#2a2a2a" stroke-width="1.1" stroke-linecap="butt"/>
<line x1="315.30" y1="47.82" x2="318.50" y2="47.82" stroke="#2a2a2a" stroke-width="1.1" stroke-linecap="butt"/>
<line x1="315.30" y1="40.16" x2="318.50" y2="40.16" stroke="#2a2a2a" stroke-width="1.1" stroke-linecap="butt"/>
<line x1="312.00" y1="32.50" x2="318.50" y2="32.50" stroke="#222" stroke-width="1.2" stroke-linecap="butt"/>
<line x1="315.30" y1="24.84" x2="318.50" y2="24.84" stroke="#2a2a2a" stroke-width="1.1" stroke-linecap="butt"/>
<line x1="327.50" y1="224.00" x2="327.50" y2="230.00" stroke="#111" stroke-width="1.3" stroke-linecap="butt"/>
<line x1="362.50" y1="224.00" x2="362.50" y2="230.00" stroke="#111" stroke-width="1.3" stroke-linecap="butt"/>
<line x1="398.25" y1="224.00" x2="398.25" y2="230.00" stroke="#111" stroke-width="1.3" stroke-linecap="butt"/>
<line x1="453.50" y1="224.00" x2="453.50" y2="230.00" stroke="#111" stroke-width="1.3" stroke-linecap="butt"/>
<line x1="499.70" y1="224.00" x2="499.70" y2="230.00" stroke="#111" stroke-width="1.3" stroke-linecap="butt"/>
<line x1="359.00" y1="224.00" x2="359.00" y2="227.60" stroke="#222" stroke-width="1.1" stroke-linecap="butt"/>
<line x1="366.07" y1="224.00" x2="366.07" y2="227.60" stroke="#222" stroke-width="1.1" stroke-linecap="butt"/>
<line x1="355.50" y1="224.00" x2="355.50" y2="227.60" stroke="#222" stroke-width="1.1" stroke-linecap="butt"/>
<line x1="369.65" y1="224.00" x2="369.65" y2="227.60" stroke="#222" stroke-width="1.1" stroke-linecap="butt"/>
<line x1="414.88" y1="224.00" x2="414.88" y2="227.60" stroke="#222" stroke-width="1.1" stroke-linecap="butt"/>
<line x1="467.41" y1="224.00" x2="467.41" y2="227.60" stroke="#222" stroke-width="1.1" stroke-linecap="butt"/>
<line x1="352.00" y1="224.00" x2="352.00" y2="227.60" stroke="#222" stroke-width="1.1" stroke-linecap="butt"/>
<line x1="373.23" y1="224.00" x2="373.23" y2="227.60" stroke="#222" stroke-width="1.1" stroke-linecap="butt"/>
<line x1="424.61" y1="224.00" x2="424.61" y2="227.60" stroke="#222" stroke-width="1.1" stroke-linecap="butt"/>
<line x1="475.54" y1="224.00" x2="475.54" y2="227.60" stroke="#222" stroke-width="1.1" stroke-linecap="butt"/>
<line x1="348.50" y1="224.00" x2="348.50" y2="227.60" stroke="#222" stroke-width="1.1" stroke-linecap="butt"/>
<line x1="376.80" y1="224.00" x2="376.80" y2="227.60" stroke="#222" stroke-width="1.1" stroke-linecap="butt"/>
<line x1="431.51" y1="224.00" x2="431.51" y2="227.60" stroke="#222" stroke-width="1.1" stroke-linecap="butt"/>
<line x1="481.32" y1="224.00" x2="481.32" y2="227.60" stroke="#222" stroke-width="1.1" stroke-linecap="butt"/>
<line x1="345.00" y1="224.00" x2="345.00" y2="227.60" stroke="#222" stroke-width="1.1" stroke-linecap="butt"/>
<line x1="380.38" y1="224.00" x2="380.38" y2="227.60" stroke="#222" stroke-width="1.1" stroke-linecap="butt"/>
<line x1="436.87" y1="224.00" x2="436.87" y2="227.60" stroke="#222" stroke-width="1.1" stroke-linecap="butt"/>
<line x1="485.79" y1="224.00" x2="485.79" y2="227.60" stroke="#222" stroke-width="1.1" stroke-linecap="butt"/>
<line x1="341.50" y1="224.00" x2="341.50" y2="227.60" stroke="#222" stroke-width="1.1" stroke-linecap="butt"/>
<line x1="383.95" y1="224.00" x2="383.95" y2="227.60" stroke="#222" stroke-width="1.1" stroke-linecap="butt"/>
<line x1="441.24" y1="224.00" x2="441.24" y2="227.60" stroke="#222" stroke-width="1.1" stroke-linecap="butt"/>
<line x1="489.45" y1="224.00" x2="489.45" y2="227.60" stroke="#222" stroke-width="1.1" stroke-linecap="butt"/>
<line x1="338.00" y1="224.00" x2="338.00" y2="227.60" stroke="#222" stroke-width="1.1" stroke-linecap="butt"/>
<line x1="387.52" y1="224.00" x2="387.52" y2="227.60" stroke="#222" stroke-width="1.1" stroke-linecap="butt"/>
<line x1="444.94" y1="224.00" x2="444.94" y2="227.60" stroke="#222" stroke-width="1.1" stroke-linecap="butt"/>
<line x1="492.54" y1="224.00" x2="492.54" y2="227.60" stroke="#222" stroke-width="1.1" stroke-linecap="butt"/>
<line x1="334.50" y1="224.00" x2="334.50" y2="227.60" stroke="#222" stroke-width="1.1" stroke-linecap="butt"/>
<line x1="391.10" y1="224.00" x2="391.10" y2="227.60" stroke="#222" stroke-width="1.1" stroke-linecap="butt"/>
<line x1="448.15" y1="224.00" x2="448.15" y2="227.60" stroke="#222" stroke-width="1.1" stroke-linecap="butt"/>
<line x1="495.22" y1="224.00" x2="495.22" y2="227.60" stroke="#222" stroke-width="1.1" stroke-linecap="butt"/>
<line x1="331.00" y1="224.00" x2="331.00" y2="227.60" stroke="#222" stroke-width="1.1" stroke-linecap="butt"/>
<line x1="394.68" y1="224.00" x2="394.68" y2="227.60" stroke="#222" stroke-width="1.1" stroke-linecap="butt"/>
<line x1="450.97" y1="224.00" x2="450.97" y2="227.60" stroke="#222" stroke-width="1.1" stroke-linecap="butt"/>
<line x1="497.59" y1="224.00" x2="497.59" y2="227.60" stroke="#222" stroke-width="1.1" stroke-linecap="butt"/>
<line x1="513.61" y1="224.00" x2="513.61" y2="227.60" stroke="#222" stroke-width="1.1" stroke-linecap="butt"/>
<line x1="324.00" y1="224.00" x2="324.00" y2="227.60" stroke="#222" stroke-width="1.1" stroke-linecap="butt"/>
<line x1="320.50" y1="224.00" x2="320.50" y2="227.60" stroke="#222" stroke-width="1.1" stroke-linecap="butt"/>
<rect x="357.50" y="224.00" width="10.20" height="4.20" fill="#111"/>
<line x1="362.50" y1="224.00" x2="362.50" y2="230.00" stroke="#111" stroke-width="1.4" stroke-linecap="butt"/>
<text font-size="13.43" transform="translate(303.95,229.52)" fill="#000">0</text>
<text font-size="13.43" transform="translate(287.17,191.22)" fill="#000">50K</text>
<text font-size="13.43" transform="translate(279.71,152.92)" fill="#000">100K</text>
<text font-size="13.43" transform="translate(279.71,114.62)" fill="#000">150K</text>
<text font-size="13.43" transform="translate(279.71,76.32)" fill="#000">200K</text>
<text font-size="13.43" transform="translate(279.71,38.02)" fill="#000">250K</text>
<text font-size="13.43" transform="translate(315.67,242.67) scale(1.0385,1)" fill="#000">-10</text>
<text font-size="7.92" transform="translate(336.02,238.52) scale(0.9309,1)" fill="#000">3</text>
<text font-size="13.29" transform="translate(360.12,242.67) scale(1.0876,1)" fill="#000">0</text>
<text font-size="13.43" transform="translate(391.33,242.67) scale(0.9146,1)" fill="#000">10</text>
<text font-size="8.48" transform="translate(404.91,238.52) scale(1.0550,1)" fill="#000">3</text>
<text font-size="13.43" transform="translate(441.50,242.67) scale(0.9930,1)" fill="#000">10</text>
<text font-size="8.73" transform="translate(455.95,238.60) scale(0.7715,1)" fill="#000">4</text>
<text font-size="13.43" transform="translate(492.58,242.67) scale(0.9146,1)" fill="#000">10</text>
<text font-size="8.60" transform="translate(506.41,238.51) scale(0.9789,1)" fill="#000">5</text>
<text font-size="15.65" transform="translate(395.46,259.84) scale(1.1156,1)" fill="#000">Ki-67</text>
<text font-size="16.68" transform="translate(278.43,153.97) rotate(-90) scale(1.0675,1)" fill="#000">FSC-A</text>
<rect x="467.20" y="45.40" width="49.30" height="154.10" fill="none" stroke="#222" stroke-width="1.4"/>
<text font-size="12.65" transform="translate(472.00,68.97) scale(1.0547,1)" fill="#000">Ki-67+</text>
<text font-size="13.48" transform="translate(472.13,83.47) scale(0.9568,1)" fill="#000">1.51</text>
<text font-size="17.13" transform="translate(358.51,18.22) scale(1.0381,1)" fill="#000">CD45+, Fibrin-</text>
<text font-weight="bold" font-size="27.78" transform="translate(275.52,18.90) scale(0.8969,1)" fill="#000">B</text>
<path d="M153.0,461.5 143.5,461.8 137.0,460.6 130.5,458.3 126.0,454.9 124.6,453.0 123.6,450.5 123.4,448.5 123.6,445.0 124.8,441.5 128.6,436.0 132.5,432.3 137.0,429.7 142.0,428.2 159.0,424.4 162.0,423.1 168.5,418.8 175.0,416.3 178.5,415.7 182.0,416.3 184.5,417.3 188.2,420.0 189.6,421.5 191.4,425.0 192.0,427.0 191.9,428.5 191.4,431.5 189.8,436.0 187.0,442.5 185.5,445.0 177.5,452.5 175.5,453.8 160.5,460.0 153.0,461.5 M152.5,460.6 143.0,460.7 139.0,459.9 131.5,457.3 127.0,453.7 125.9,452.0 125.2,450.0 125.4,444.5 126.3,442.0 130.0,436.8 134.0,433.1 137.5,431.1 143.0,429.4 155.5,427.6 160.4,426.5 163.0,425.2 169.0,420.6 174.5,418.7 177.5,418.1 180.5,418.3 183.5,419.4 186.7,421.5 189.3,425.0 189.9,426.5 190.1,428.0 188.9,432.0 185.8,439.5 183.4,443.5 178.5,447.8 175.5,451.1 173.5,452.6 160.5,458.8 156.5,460.0 152.5,460.6 M153.5,459.5 141.5,459.6 133.0,456.7 129.2,454.0 127.5,452.1 126.7,450.5 126.7,445.0 127.5,442.5 131.0,437.9 135.0,434.0 138.5,432.0 144.0,430.5 156.0,429.4 162.5,428.2 164.5,426.9 169.0,422.5 171.0,421.4 176.5,420.0 178.5,419.9 182.5,420.8 185.4,422.5 187.8,425.5 188.3,428.0 187.0,432.0 184.4,437.5 181.0,442.6 177.5,445.5 173.2,450.5 167.9,454.0 159.8,458.0 153.5,459.5 M148.0,459.0 142.0,458.9 136.0,456.8 131.5,454.6 128.5,451.5 127.8,449.0 128.4,443.5 130.0,441.0 134.4,436.0 138.0,433.4 144.0,431.6 160.0,430.9 164.0,429.9 165.6,429.0 170.1,423.5 176.5,421.5 181.5,421.9 183.5,422.7 185.0,423.9 186.2,425.5 186.7,427.0 185.0,432.5 181.8,438.0 179.5,441.3 176.0,444.0 171.5,449.5 167.0,453.3 159.5,457.1 154.5,458.5 148.0,459.0 M153.5,458.0 148.0,458.4 141.5,458.0 134.5,455.3 130.5,452.7 129.3,451.0 128.9,449.5 129.3,444.5 130.2,442.5 133.7,438.0 138.0,434.4 145.0,432.3 152.5,432.2 165.5,432.8 166.5,432.1 170.1,425.5 171.5,424.2 178.0,422.5 181.0,422.9 183.3,424.0 184.4,425.5 184.9,427.0 183.9,431.0 181.5,435.4 178.0,440.2 174.7,442.5 171.5,446.3 170.2,448.5 166.5,452.5 158.8,456.5 153.5,458.0 M153.0,457.6 145.5,457.8 141.5,457.4 135.0,454.8 131.3,452.5 129.9,450.0 130.2,445.0 131.0,443.0 134.3,438.5 138.5,435.0 146.0,432.9 152.5,433.1 158.5,433.8 165.5,436.6 167.0,436.7 168.0,436.3 168.6,435.5 169.3,431.0 171.7,425.5 178.0,423.5 180.0,423.7 182.0,424.6 183.0,426.0 183.3,427.5 182.9,429.5 182.1,431.5 179.6,435.5 176.7,439.0 174.0,440.6 172.7,442.0 170.0,445.5 168.8,448.0 166.6,451.0 165.5,452.0 159.0,455.6 156.0,456.9 153.0,457.6 M175.5,437.6 172.5,436.4 171.0,435.0 170.7,432.0 171.7,427.5 172.5,426.2 173.6,425.5 177.5,424.3 180.0,424.5 181.5,425.5 182.0,426.4 182.0,429.1 178.2,435.5 175.5,437.6 M153.5,457.1 146.0,457.5 141.5,456.9 134.5,454.0 131.2,451.5 130.5,449.0 131.2,444.0 134.5,439.2 137.5,436.3 139.5,435.1 145.0,433.5 152.0,433.6 158.5,434.9 165.5,438.6 168.0,438.6 169.0,439.0 169.6,440.5 169.4,443.0 165.9,450.5 159.1,455.0 156.0,456.4 153.5,457.1 M176.5,435.1 175.5,435.2 174.5,434.5 174.1,432.0 173.1,429.5 173.1,428.0 173.7,427.0 175.2,426.0 177.5,425.4 179.5,425.5 180.7,426.5 180.8,428.5 178.6,431.0 177.5,434.0 176.5,435.1 M147.5,457.0 144.0,456.9 139.5,455.8 133.8,453.0 131.6,451.0 131.3,448.5 132.1,444.0 135.0,439.7 137.6,437.0 140.0,435.6 145.0,434.1 152.5,434.4 157.9,436.0 162.8,439.0 166.4,442.0 166.7,443.5 165.4,449.0 163.9,451.0 159.0,454.3 155.6,456.0 152.0,456.8 147.5,457.0 M177.0,429.1 175.9,429.0 175.9,428.0 176.5,427.5 177.9,427.5 178.2,428.0 178.0,428.5 177.0,429.1 M147.0,456.5 144.5,456.5 139.5,455.2 134.5,452.7 132.6,451.0 132.1,449.0 132.8,445.0 134.0,442.7 137.5,438.4 140.5,436.2 144.5,435.0 146.5,434.8 152.4,435.5 155.6,436.5 163.0,441.4 164.0,443.0 164.3,445.0 164.2,448.0 163.2,450.0 158.8,453.5 155.5,455.3 152.0,456.2 147.0,456.5 M148.0,455.5 145.0,455.7 139.5,454.1 134.5,451.5 133.4,449.5 133.7,447.0 134.4,445.0 138.2,440.0 141.0,437.4 145.0,436.2 147.0,436.2 152.5,437.3 155.0,438.3 160.8,442.5 162.3,446.0 162.3,447.5 161.8,448.5 157.0,453.2 152.5,455.0 148.0,455.5 M148.5,454.6 146.0,454.9 144.5,454.7 139.5,452.8 135.9,451.0 134.9,450.0 134.8,448.5 135.7,446.0 140.5,439.5 142.0,438.3 146.0,437.9 149.0,439.0 153.5,439.3 156.5,441.5 159.4,445.0 159.9,446.5 159.8,448.0 156.6,452.0 153.0,453.7 148.5,454.6 M148.5,453.6 146.0,454.0 144.0,453.5 140.0,451.5 137.0,449.0 137.1,447.5 139.8,443.0 142.5,439.9 145.0,439.9 149.0,440.9 153.0,440.9 154.6,442.0 157.1,445.5 157.3,448.0 155.4,451.0 152.5,452.6 148.5,453.6 M148.0,452.6 146.0,452.8 143.5,452.2 141.4,451.0 139.8,449.0 139.6,447.5 140.5,444.5 143.0,442.1 146.0,441.8 151.2,443.0 153.0,444.0 154.8,446.0 155.1,447.5 153.5,450.2 151.5,451.5 148.0,452.6 M148.0,451.0 146.5,451.2 144.5,450.9 143.0,450.1 142.1,449.0 141.9,447.5 142.2,446.0 144.3,444.0 146.0,443.5 148.0,443.8 150.4,445.0 151.8,446.5 151.9,447.5 151.2,449.0 150.0,450.1 148.0,451.0" fill="none" stroke="#222" stroke-width="0.9" stroke-linejoin="round"/><path d="M150.0,468.5 140.5,468.4 133.5,467.6 128.0,466.4 122.0,463.8 114.2,458.5 111.3,454.5 110.4,451.5 110.2,449.0 111.7,441.0 114.5,434.5 116.8,431.5 120.1,428.0 126.0,423.1 137.0,416.3 144.2,412.5 158.5,403.0 171.5,395.8 178.5,393.4 185.5,392.7 190.5,393.1 196.0,395.3 204.0,401.5 210.4,407.5 216.3,416.5 222.0,423.0 226.4,430.5 228.2,435.5 228.2,439.5 226.5,447.5 223.3,454.0 221.3,456.5 219.0,457.9 209.0,460.4 195.5,461.0 188.0,462.9 179.0,464.5 158.0,467.8 150.0,468.5 M148.0,466.5 140.5,466.2 133.5,465.3 129.0,464.1 126.5,463.1 123.5,461.3 118.0,456.5 115.4,452.5 114.8,450.5 114.7,448.0 115.8,441.0 117.3,437.5 119.3,434.5 124.0,429.4 128.0,426.3 139.5,419.7 146.6,417.0 151.4,414.5 166.0,404.5 175.0,399.9 179.5,399.0 190.0,399.8 193.5,401.0 197.9,404.0 202.1,409.0 206.2,418.5 209.5,421.5 212.6,425.5 217.3,435.0 217.7,438.0 217.6,440.0 213.5,447.5 209.5,450.9 207.5,451.9 203.5,453.0 198.0,453.9 194.0,455.1 186.0,458.7 180.5,460.6 160.5,465.2 148.0,466.5 M152.0,465.0 143.5,465.2 132.5,463.6 127.5,461.8 122.3,458.0 118.5,453.5 117.2,449.5 118.1,442.0 119.2,439.0 120.7,436.5 126.0,430.5 131.5,426.6 140.0,422.4 147.6,420.0 158.0,415.6 167.5,408.1 173.5,405.1 177.5,403.9 184.5,403.9 189.5,404.5 194.0,406.6 196.0,408.5 197.2,410.5 198.6,417.0 200.4,422.5 203.5,427.0 205.4,431.0 205.8,439.5 205.5,441.5 204.4,443.5 201.4,446.5 193.0,450.7 186.3,455.5 180.5,458.3 163.0,463.3 152.0,465.0 M150.5,464.0 142.5,463.9 132.5,462.1 128.0,460.4 123.2,456.5 120.3,452.5 119.4,448.5 120.1,442.5 121.4,439.5 123.2,436.5 128.4,431.0 133.5,427.6 140.5,424.7 147.0,423.1 151.5,421.3 157.0,419.7 161.4,417.5 167.5,412.8 172.0,410.7 179.0,408.5 182.5,408.1 186.0,408.6 190.3,410.5 192.1,412.0 193.1,413.5 194.9,420.0 198.5,428.0 199.0,433.0 197.2,440.5 192.8,445.5 186.0,452.3 180.0,456.2 176.0,457.8 162.0,462.2 157.5,463.1 150.5,464.0 M153.5,462.6 144.0,462.9 136.5,461.8 130.0,459.7 126.0,457.0 122.6,453.0 121.8,451.0 121.4,449.0 122.0,443.0 124.7,438.0 127.5,434.5 130.5,431.6 135.5,428.5 140.5,426.7 147.5,425.2 157.5,422.3 162.5,419.9 168.0,416.2 173.0,414.0 179.0,412.6 181.0,412.5 184.5,413.2 187.5,414.9 190.0,417.6 191.6,420.0 194.2,425.5 194.8,428.0 194.2,432.5 191.9,439.0 188.2,445.5 184.5,450.0 180.0,453.6 177.5,455.1 161.0,461.1 153.5,462.6" fill="none" stroke="#1a1a1a" stroke-width="1.1" stroke-linejoin="round"/>
<rect x="53.00" y="295.30" width="200.40" height="200.70" fill="none" stroke="#333" stroke-width="1.2"/>
<line x1="53.00" y1="295.30" x2="53.00" y2="496.00" stroke="#222" stroke-width="1.3" stroke-linecap="butt"/>
<line x1="47.00" y1="496.00" x2="253.40" y2="496.00" stroke="#111" stroke-width="1.4" stroke-linecap="butt"/>
<line x1="46.50" y1="496.00" x2="53.00" y2="496.00" stroke="#222" stroke-width="1.2" stroke-linecap="butt"/>
<line x1="49.80" y1="488.34" x2="53.00" y2="488.34" stroke="#2a2a2a" stroke-width="1.1" stroke-linecap="butt"/>
<line x1="49.80" y1="480.68" x2="53.00" y2="480.68" stroke="#2a2a2a" stroke-width="1.1" stroke-linecap="butt"/>
<line x1="49.80" y1="473.02" x2="53.00" y2="473.02" stroke="#2a2a2a" stroke-width="1.1" stroke-linecap="butt"/>
<line x1="49.80" y1="465.36" x2="53.00" y2="465.36" stroke="#2a2a2a" stroke-width="1.1" stroke-linecap="butt"/>
<line x1="46.50" y1="457.70" x2="53.00" y2="457.70" stroke="#222" stroke-width="1.2" stroke-linecap="butt"/>
<line x1="49.80" y1="450.04" x2="53.00" y2="450.04" stroke="#2a2a2a" stroke-width="1.1" stroke-linecap="butt"/>
<line x1="49.80" y1="442.38" x2="53.00" y2="442.38" stroke="#2a2a2a" stroke-width="1.1" stroke-linecap="butt"/>
<line x1="49.80" y1="434.72" x2="53.00" y2="434.72" stroke="#2a2a2a" stroke-width="1.1" stroke-linecap="butt"/>
<line x1="49.80" y1="427.06" x2="53.00" y2="427.06" stroke="#2a2a2a" stroke-width="1.1" stroke-linecap="butt"/>
<line x1="46.50" y1="419.40" x2="53.00" y2="419.40" stroke="#222" stroke-width="1.2" stroke-linecap="butt"/>
<line x1="49.80" y1="411.74" x2="53.00" y2="411.74" stroke="#2a2a2a" stroke-width="1.1" stroke-linecap="butt"/>
<line x1="49.80" y1="404.08" x2="53.00" y2="404.08" stroke="#2a2a2a" stroke-width="1.1" stroke-linecap="butt"/>
<line x1="49.80" y1="396.42" x2="53.00" y2="396.42" stroke="#2a2a2a" stroke-width="1.1" stroke-linecap="butt"/>
<line x1="49.80" y1="388.76" x2="53.00" y2="388.76" stroke="#2a2a2a" stroke-width="1.1" stroke-linecap="butt"/>
<line x1="46.50" y1="381.10" x2="53.00" y2="381.10" stroke="#222" stroke-width="1.2" stroke-linecap="butt"/>
<line x1="49.80" y1="373.44" x2="53.00" y2="373.44" stroke="#2a2a2a" stroke-width="1.1" stroke-linecap="butt"/>
<line x1="49.80" y1="365.78" x2="53.00" y2="365.78" stroke="#2a2a2a" stroke-width="1.1" stroke-linecap="butt"/>
<line x1="49.80" y1="358.12" x2="53.00" y2="358.12" stroke="#2a2a2a" stroke-width="1.1" stroke-linecap="butt"/>
<line x1="49.80" y1="350.46" x2="53.00" y2="350.46" stroke="#2a2a2a" stroke-width="1.1" stroke-linecap="butt"/>
<line x1="46.50" y1="342.80" x2="53.00" y2="342.80" stroke="#222" stroke-width="1.2" stroke-linecap="butt"/>
<line x1="49.80" y1="335.14" x2="53.00" y2="335.14" stroke="#2a2a2a" stroke-width="1.1" stroke-linecap="butt"/>
<line x1="49.80" y1="327.48" x2="53.00" y2="327.48" stroke="#2a2a2a" stroke-width="1.1" stroke-linecap="butt"/>
<line x1="49.80" y1="319.82" x2="53.00" y2="319.82" stroke="#2a2a2a" stroke-width="1.1" stroke-linecap="butt"/>
<line x1="49.80" y1="312.16" x2="53.00" y2="312.16" stroke="#2a2a2a" stroke-width="1.1" stroke-linecap="butt"/>
<line x1="46.50" y1="304.50" x2="53.00" y2="304.50" stroke="#222" stroke-width="1.2" stroke-linecap="butt"/>
<line x1="49.80" y1="296.84" x2="53.00" y2="296.84" stroke="#2a2a2a" stroke-width="1.1" stroke-linecap="butt"/>
<line x1="62.00" y1="496.00" x2="62.00" y2="502.00" stroke="#111" stroke-width="1.3" stroke-linecap="butt"/>
<line x1="97.00" y1="496.00" x2="97.00" y2="502.00" stroke="#111" stroke-width="1.3" stroke-linecap="butt"/>
<line x1="132.75" y1="496.00" x2="132.75" y2="502.00" stroke="#111" stroke-width="1.3" stroke-linecap="butt"/>
<line x1="188.00" y1="496.00" x2="188.00" y2="502.00" stroke="#111" stroke-width="1.3" stroke-linecap="butt"/>
<line x1="234.20" y1="496.00" x2="234.20" y2="502.00" stroke="#111" stroke-width="1.3" stroke-linecap="butt"/>
<line x1="93.50" y1="496.00" x2="93.50" y2="499.60" stroke="#222" stroke-width="1.1" stroke-linecap="butt"/>
<line x1="100.58" y1="496.00" x2="100.58" y2="499.60" stroke="#222" stroke-width="1.1" stroke-linecap="butt"/>
<line x1="90.00" y1="496.00" x2="90.00" y2="499.60" stroke="#222" stroke-width="1.1" stroke-linecap="butt"/>
<line x1="104.15" y1="496.00" x2="104.15" y2="499.60" stroke="#222" stroke-width="1.1" stroke-linecap="butt"/>
<line x1="149.38" y1="496.00" x2="149.38" y2="499.60" stroke="#222" stroke-width="1.1" stroke-linecap="butt"/>
<line x1="201.91" y1="496.00" x2="201.91" y2="499.60" stroke="#222" stroke-width="1.1" stroke-linecap="butt"/>
<line x1="86.50" y1="496.00" x2="86.50" y2="499.60" stroke="#222" stroke-width="1.1" stroke-linecap="butt"/>
<line x1="107.72" y1="496.00" x2="107.72" y2="499.60" stroke="#222" stroke-width="1.1" stroke-linecap="butt"/>
<line x1="159.11" y1="496.00" x2="159.11" y2="499.60" stroke="#222" stroke-width="1.1" stroke-linecap="butt"/>
<line x1="210.04" y1="496.00" x2="210.04" y2="499.60" stroke="#222" stroke-width="1.1" stroke-linecap="butt"/>
<line x1="83.00" y1="496.00" x2="83.00" y2="499.60" stroke="#222" stroke-width="1.1" stroke-linecap="butt"/>
<line x1="111.30" y1="496.00" x2="111.30" y2="499.60" stroke="#222" stroke-width="1.1" stroke-linecap="butt"/>
<line x1="166.01" y1="496.00" x2="166.01" y2="499.60" stroke="#222" stroke-width="1.1" stroke-linecap="butt"/>
<line x1="215.82" y1="496.00" x2="215.82" y2="499.60" stroke="#222" stroke-width="1.1" stroke-linecap="butt"/>
<line x1="79.50" y1="496.00" x2="79.50" y2="499.60" stroke="#222" stroke-width="1.1" stroke-linecap="butt"/>
<line x1="114.88" y1="496.00" x2="114.88" y2="499.60" stroke="#222" stroke-width="1.1" stroke-linecap="butt"/>
<line x1="171.37" y1="496.00" x2="171.37" y2="499.60" stroke="#222" stroke-width="1.1" stroke-linecap="butt"/>
<line x1="220.29" y1="496.00" x2="220.29" y2="499.60" stroke="#222" stroke-width="1.1" stroke-linecap="butt"/>
<line x1="76.00" y1="496.00" x2="76.00" y2="499.60" stroke="#222" stroke-width="1.1" stroke-linecap="butt"/>
<line x1="118.45" y1="496.00" x2="118.45" y2="499.60" stroke="#222" stroke-width="1.1" stroke-linecap="butt"/>
<line x1="175.74" y1="496.00" x2="175.74" y2="499.60" stroke="#222" stroke-width="1.1" stroke-linecap="butt"/>
<line x1="223.95" y1="496.00" x2="223.95" y2="499.60" stroke="#222" stroke-width="1.1" stroke-linecap="butt"/>
<line x1="72.50" y1="496.00" x2="72.50" y2="499.60" stroke="#222" stroke-width="1.1" stroke-linecap="butt"/>
<line x1="122.03" y1="496.00" x2="122.03" y2="499.60" stroke="#222" stroke-width="1.1" stroke-linecap="butt"/>
<line x1="179.44" y1="496.00" x2="179.44" y2="499.60" stroke="#222" stroke-width="1.1" stroke-linecap="butt"/>
<line x1="227.04" y1="496.00" x2="227.04" y2="499.60" stroke="#222" stroke-width="1.1" stroke-linecap="butt"/>
<line x1="69.00" y1="496.00" x2="69.00" y2="499.60" stroke="#222" stroke-width="1.1" stroke-linecap="butt"/>
<line x1="125.60" y1="496.00" x2="125.60" y2="499.60" stroke="#222" stroke-width="1.1" stroke-linecap="butt"/>
<line x1="182.65" y1="496.00" x2="182.65" y2="499.60" stroke="#222" stroke-width="1.1" stroke-linecap="butt"/>
<line x1="229.72" y1="496.00" x2="229.72" y2="499.60" stroke="#222" stroke-width="1.1" stroke-linecap="butt"/>
<line x1="65.50" y1="496.00" x2="65.50" y2="499.60" stroke="#222" stroke-width="1.1" stroke-linecap="butt"/>
<line x1="129.18" y1="496.00" x2="129.18" y2="499.60" stroke="#222" stroke-width="1.1" stroke-linecap="butt"/>
<line x1="185.47" y1="496.00" x2="185.47" y2="499.60" stroke="#222" stroke-width="1.1" stroke-linecap="butt"/>
<line x1="232.09" y1="496.00" x2="232.09" y2="499.60" stroke="#222" stroke-width="1.1" stroke-linecap="butt"/>
<line x1="248.11" y1="496.00" x2="248.11" y2="499.60" stroke="#222" stroke-width="1.1" stroke-linecap="butt"/>
<line x1="58.50" y1="496.00" x2="58.50" y2="499.60" stroke="#222" stroke-width="1.1" stroke-linecap="butt"/>
<line x1="55.00" y1="496.00" x2="55.00" y2="499.60" stroke="#222" stroke-width="1.1" stroke-linecap="butt"/>
<rect x="92.00" y="496.00" width="10.20" height="4.20" fill="#111"/>
<line x1="97.00" y1="496.00" x2="97.00" y2="502.00" stroke="#111" stroke-width="1.4" stroke-linecap="butt"/>
<text font-size="13.43" transform="translate(38.45,501.52)" fill="#000">0</text>
<text font-size="13.43" transform="translate(21.67,463.22)" fill="#000">50K</text>
<text font-size="13.43" transform="translate(14.21,424.92)" fill="#000">100K</text>
<text font-size="13.43" transform="translate(14.21,386.62)" fill="#000">150K</text>
<text font-size="13.43" transform="translate(14.21,348.32)" fill="#000">200K</text>
<text font-size="13.43" transform="translate(14.21,310.02)" fill="#000">250K</text>
<text font-size="13.43" transform="translate(50.17,514.67) scale(1.0385,1)" fill="#000">-10</text>
<text font-size="7.92" transform="translate(70.52,510.52) scale(0.9309,1)" fill="#000">3</text>
<text font-size="13.29" transform="translate(94.62,514.67) scale(1.0876,1)" fill="#000">0</text>
<text font-size="13.43" transform="translate(125.83,514.67) scale(0.9146,1)" fill="#000">10</text>
<text font-size="8.48" transform="translate(139.41,510.52) scale(1.0550,1)" fill="#000">3</text>
<text font-size="13.43" transform="translate(176.00,514.67) scale(0.9930,1)" fill="#000">10</text>
<text font-size="8.73" transform="translate(190.45,510.60) scale(0.7715,1)" fill="#000">4</text>
<text font-size="13.43" transform="translate(227.08,514.67) scale(0.9146,1)" fill="#000">10</text>
<text font-size="8.60" transform="translate(240.91,510.51) scale(0.9789,1)" fill="#000">5</text>
<text font-size="15.65" transform="translate(129.96,531.84) scale(1.1156,1)" fill="#000">Ki-67</text>
<text font-size="16.68" transform="translate(12.93,425.97) rotate(-90) scale(1.0675,1)" fill="#000">FSC-A</text>
<rect x="200.80" y="317.20" width="49.40" height="154.30" fill="none" stroke="#222" stroke-width="1.4"/>
<text font-size="12.65" transform="translate(206.60,349.47) scale(1.0547,1)" fill="#000">Ki-67+</text>
<text font-size="13.29" transform="translate(206.98,363.97) scale(1.0306,1)" fill="#000">7.20</text>
<text font-size="16.94" transform="translate(66.60,290.08) scale(1.0652,1)" fill="#000">CD45+ spleenocytes</text>
<text font-weight="bold" font-size="27.20" transform="translate(4.61,292.23)" fill="#000">C</text>
<path d="M429.0,431.6 423.5,431.4 420.5,430.7 417.5,429.2 414.0,426.5 409.5,418.0 406.7,413.5 405.0,400.5 406.3,395.0 408.3,389.5 415.9,380.5 418.0,379.1 424.5,376.7 430.5,376.0 435.5,376.4 437.6,377.5 438.5,381.0 441.2,384.0 443.4,389.5 443.9,392.0 442.9,399.0 442.9,404.0 442.2,408.5 440.2,416.0 436.1,425.5 433.0,429.2 429.0,431.6 M428.5,429.6 424.5,429.8 422.0,429.2 419.7,428.0 415.0,424.4 412.6,419.5 408.5,413.0 407.4,407.5 406.6,400.5 408.8,392.0 410.0,389.5 411.5,387.5 418.0,380.7 421.0,379.5 426.0,378.4 430.5,378.5 435.0,379.2 436.5,382.1 439.8,385.0 441.7,390.5 441.9,392.5 442.0,396.0 441.4,399.0 441.6,403.5 440.8,408.5 439.9,411.0 438.9,416.5 436.8,421.5 433.0,427.1 432.0,428.0 428.5,429.6 M426.0,427.5 424.5,427.6 422.5,426.9 419.5,424.5 416.5,423.1 415.2,422.0 414.0,419.0 410.2,413.0 408.4,406.5 408.0,402.5 408.1,399.0 409.5,393.5 411.0,390.5 418.5,382.2 420.5,381.2 425.5,380.1 431.0,379.9 433.5,380.7 435.2,383.5 438.0,385.3 438.8,386.5 440.8,395.0 440.4,403.0 439.7,405.5 439.6,408.0 438.6,411.0 438.2,415.5 436.0,421.2 431.5,425.8 426.0,427.5 M427.5,425.1 426.0,425.2 423.0,424.4 416.4,421.0 413.6,416.0 411.3,413.0 409.4,406.0 409.0,401.0 409.6,397.0 411.5,392.6 413.5,389.9 415.5,388.1 417.5,386.9 419.5,383.6 425.5,381.5 428.5,381.7 431.0,381.2 432.5,381.9 433.8,384.5 436.5,386.1 437.3,387.0 438.2,392.0 439.7,395.5 439.5,402.5 438.5,407.5 437.6,410.0 437.2,415.5 435.3,420.5 434.0,421.8 427.5,425.1 M426.5,422.6 425.0,422.6 419.5,421.3 417.2,420.0 415.0,415.5 412.1,412.0 410.5,406.5 410.1,402.0 410.6,398.0 412.1,394.5 414.0,391.6 418.8,387.5 420.5,384.8 426.0,382.7 430.9,383.5 432.2,385.0 436.1,387.5 437.0,392.2 438.5,396.0 438.7,402.0 437.8,407.0 436.5,410.0 436.3,413.5 434.4,420.0 432.5,421.4 428.0,422.0 426.5,422.6 M430.5,420.5 425.5,420.5 423.0,418.8 422.0,418.9 420.0,420.1 418.5,419.6 416.7,415.0 413.0,411.3 411.5,406.5 411.3,400.5 413.2,395.0 417.8,389.5 419.6,388.0 421.0,385.9 426.0,384.4 428.5,384.7 435.2,388.0 437.5,397.0 437.8,403.5 437.0,406.8 435.3,409.5 435.2,413.0 433.7,416.0 433.4,419.0 432.5,420.1 430.5,420.5 M431.0,419.1 428.5,419.3 423.0,417.7 419.5,417.9 418.7,415.0 414.0,410.3 412.8,407.5 412.8,403.5 412.3,401.0 413.6,396.5 414.5,395.1 417.0,392.5 418.5,390.0 422.0,386.7 428.0,385.9 430.0,387.0 433.5,388.0 434.7,389.5 435.0,392.0 436.5,397.0 436.5,400.0 437.0,403.5 436.2,406.5 433.9,409.0 433.7,413.0 432.4,416.0 432.0,418.0 431.0,419.1 M429.0,418.0 425.5,416.9 422.0,416.4 418.0,412.8 414.0,407.1 413.3,401.0 414.7,396.5 418.0,392.5 419.6,390.0 422.0,388.2 425.0,388.1 427.5,387.1 430.0,388.2 432.0,388.6 433.3,389.5 435.6,397.5 435.6,400.5 436.2,403.0 435.4,406.0 432.1,408.0 432.5,410.5 432.2,413.0 430.5,417.0 429.0,418.0 M429.0,416.1 428.0,416.3 425.0,415.3 423.0,415.6 419.0,412.5 415.5,406.5 414.3,402.0 414.5,399.5 416.4,396.0 420.2,390.5 422.5,389.2 426.5,389.8 428.5,389.1 432.0,389.9 432.6,391.0 433.4,394.5 434.8,397.5 434.7,400.5 435.4,403.0 435.2,404.5 434.1,406.0 432.0,406.6 430.9,407.5 431.1,411.0 429.7,413.0 429.0,416.1 M423.5,414.0 422.0,413.9 420.1,412.0 419.2,409.0 416.9,406.0 415.5,403.1 415.1,400.5 415.6,399.5 417.6,397.5 418.8,394.5 421.8,390.5 424.0,390.1 426.5,391.2 429.0,390.3 430.5,390.4 431.7,391.5 432.5,395.0 434.1,397.5 434.0,400.5 434.5,404.0 433.5,405.4 431.5,406.1 430.4,407.0 429.9,408.0 429.7,410.5 427.5,413.7 425.0,413.4 423.5,414.0 M422.5,412.5 421.9,412.0 421.9,410.0 421.5,409.0 418.4,406.0 417.7,403.0 416.3,401.5 416.4,400.5 419.2,397.5 420.4,394.5 423.0,391.1 424.0,391.0 426.5,392.5 429.0,391.4 430.0,391.5 430.9,392.5 431.2,395.5 433.0,396.9 433.5,398.0 433.7,404.0 433.0,404.8 430.1,406.5 427.0,411.7 424.5,411.8 422.5,412.5 M424.5,409.7 423.5,409.6 419.4,406.0 419.0,404.5 419.6,402.5 418.6,400.0 421.0,395.5 422.0,394.5 423.5,393.6 425.5,393.9 429.0,393.3 429.8,396.0 432.0,397.0 432.9,398.0 433.1,403.5 432.4,404.5 430.0,406.0 427.5,408.5 424.5,409.7 M427.0,407.1 423.0,406.8 421.2,406.0 420.4,405.0 421.1,402.5 420.6,400.5 420.8,399.5 422.5,396.7 423.5,396.0 427.5,395.8 429.0,397.2 431.5,398.3 432.0,399.0 431.9,403.5 428.5,406.3 427.0,407.1 M427.5,405.6 424.5,405.7 422.6,404.5 423.0,400.5 424.0,399.8 425.9,399.5 426.0,399.0 425.3,398.5 425.5,397.9 429.8,399.0 430.7,400.0 431.0,402.5 430.7,403.5 429.0,404.9 427.5,405.6" fill="none" stroke="#222" stroke-width="0.9" stroke-linejoin="round"/><path d="M429.0,446.1 426.5,446.4 423.0,445.9 415.5,443.3 408.0,438.0 403.5,432.6 400.0,426.5 398.2,421.5 396.2,413.5 394.8,404.5 395.3,395.0 397.7,386.5 403.7,377.0 409.5,370.8 419.0,362.5 423.4,357.5 426.0,353.0 427.5,348.4 433.9,340.0 436.5,335.7 438.5,334.3 443.5,332.6 448.5,329.8 450.5,329.2 452.5,329.2 456.0,330.7 459.0,333.5 460.9,337.5 461.8,342.5 461.0,353.0 457.7,363.0 457.2,366.0 457.4,374.5 456.8,387.5 455.6,395.5 450.7,412.0 444.1,432.0 441.6,436.0 437.0,441.3 433.0,444.6 429.0,446.1 M430.0,441.5 427.5,441.9 425.0,441.8 417.5,439.7 412.0,436.1 405.0,429.0 400.9,419.5 398.6,409.5 397.8,401.5 398.6,394.5 401.1,387.0 409.0,375.9 412.2,373.0 427.6,361.5 431.0,358.5 433.3,355.5 437.5,351.3 439.0,350.4 442.5,349.4 446.0,347.0 447.1,345.5 447.8,341.5 450.5,336.7 452.0,335.4 454.0,335.3 455.5,336.0 456.4,337.0 457.8,339.5 458.2,341.0 455.5,351.4 452.8,356.0 452.2,358.0 451.9,362.5 453.1,374.5 452.7,382.0 453.0,389.0 452.1,395.0 450.4,401.0 447.8,413.0 441.5,431.0 440.0,433.5 435.1,438.5 430.0,441.5 M429.5,439.0 427.5,439.1 420.5,438.0 418.0,437.3 412.0,433.3 406.9,428.0 403.6,421.0 401.9,416.0 400.6,409.0 399.8,402.0 400.2,397.0 401.0,393.0 402.7,388.0 408.5,380.0 411.0,377.1 418.5,371.4 423.4,369.0 431.4,363.5 434.0,361.1 440.0,358.8 441.5,358.6 444.0,359.3 445.7,360.5 447.9,366.0 448.0,369.0 449.1,372.0 449.7,378.0 449.7,382.0 450.6,388.5 450.4,392.5 446.1,413.0 440.7,428.0 439.0,431.2 435.0,435.5 432.6,437.5 429.5,439.0 M429.0,436.0 423.5,435.3 420.5,435.4 418.5,434.8 412.5,431.0 409.5,427.0 405.1,418.5 403.7,414.5 402.5,409.0 401.8,402.5 402.0,398.0 405.0,388.1 412.9,378.5 420.0,373.4 425.8,371.0 429.0,369.2 432.5,368.3 436.0,366.5 437.5,366.4 441.0,368.5 442.0,369.5 446.0,378.7 446.3,382.5 448.1,390.0 447.6,395.5 444.4,413.0 439.4,426.5 438.0,429.0 434.0,433.4 431.0,435.3 429.0,436.0 M429.0,433.5 426.5,433.6 419.5,432.7 414.0,429.4 412.6,428.0 409.4,422.5 405.3,414.0 404.2,408.5 403.4,401.0 404.0,396.5 406.5,389.5 414.1,380.0 416.0,378.4 420.5,375.8 425.0,373.9 430.0,372.7 437.5,374.0 439.5,375.3 441.0,377.5 441.9,380.5 444.7,385.5 445.9,391.5 443.8,409.0 441.8,416.0 440.0,420.0 438.2,425.5 437.0,427.4 433.0,431.7 431.0,433.0 429.0,433.5" fill="none" stroke="#1a1a1a" stroke-width="1.1" stroke-linejoin="round"/>
<rect x="318.50" y="295.30" width="201.00" height="200.70" fill="none" stroke="#333" stroke-width="1.2"/>
<line x1="318.50" y1="295.30" x2="318.50" y2="496.00" stroke="#222" stroke-width="1.3" stroke-linecap="butt"/>
<line x1="312.50" y1="496.00" x2="519.50" y2="496.00" stroke="#111" stroke-width="1.4" stroke-linecap="butt"/>
<line x1="312.00" y1="496.00" x2="318.50" y2="496.00" stroke="#222" stroke-width="1.2" stroke-linecap="butt"/>
<line x1="315.30" y1="488.34" x2="318.50" y2="488.34" stroke="#2a2a2a" stroke-width="1.1" stroke-linecap="butt"/>
<line x1="315.30" y1="480.68" x2="318.50" y2="480.68" stroke="#2a2a2a" stroke-width="1.1" stroke-linecap="butt"/>
<line x1="315.30" y1="473.02" x2="318.50" y2="473.02" stroke="#2a2a2a" stroke-width="1.1" stroke-linecap="butt"/>
<line x1="315.30" y1="465.36" x2="318.50" y2="465.36" stroke="#2a2a2a" stroke-width="1.1" stroke-linecap="butt"/>
<line x1="312.00" y1="457.70" x2="318.50" y2="457.70" stroke="#222" stroke-width="1.2" stroke-linecap="butt"/>
<line x1="315.30" y1="450.04" x2="318.50" y2="450.04" stroke="#2a2a2a" stroke-width="1.1" stroke-linecap="butt"/>
<line x1="315.30" y1="442.38" x2="318.50" y2="442.38" stroke="#2a2a2a" stroke-width="1.1" stroke-linecap="butt"/>
<line x1="315.30" y1="434.72" x2="318.50" y2="434.72" stroke="#2a2a2a" stroke-width="1.1" stroke-linecap="butt"/>
<line x1="315.30" y1="427.06" x2="318.50" y2="427.06" stroke="#2a2a2a" stroke-width="1.1" stroke-linecap="butt"/>
<line x1="312.00" y1="419.40" x2="318.50" y2="419.40" stroke="#222" stroke-width="1.2" stroke-linecap="butt"/>
<line x1="315.30" y1="411.74" x2="318.50" y2="411.74" stroke="#2a2a2a" stroke-width="1.1" stroke-linecap="butt"/>
<line x1="315.30" y1="404.08" x2="318.50" y2="404.08" stroke="#2a2a2a" stroke-width="1.1" stroke-linecap="butt"/>
<line x1="315.30" y1="396.42" x2="318.50" y2="396.42" stroke="#2a2a2a" stroke-width="1.1" stroke-linecap="butt"/>
<line x1="315.30" y1="388.76" x2="318.50" y2="388.76" stroke="#2a2a2a" stroke-width="1.1" stroke-linecap="butt"/>
<line x1="312.00" y1="381.10" x2="318.50" y2="381.10" stroke="#222" stroke-width="1.2" stroke-linecap="butt"/>
<line x1="315.30" y1="373.44" x2="318.50" y2="373.44" stroke="#2a2a2a" stroke-width="1.1" stroke-linecap="butt"/>
<line x1="315.30" y1="365.78" x2="318.50" y2="365.78" stroke="#2a2a2a" stroke-width="1.1" stroke-linecap="butt"/>
<line x1="315.30" y1="358.12" x2="318.50" y2="358.12" stroke="#2a2a2a" stroke-width="1.1" stroke-linecap="butt"/>
<line x1="315.30" y1="350.46" x2="318.50" y2="350.46" stroke="#2a2a2a" stroke-width="1.1" stroke-linecap="butt"/>
<line x1="312.00" y1="342.80" x2="318.50" y2="342.80" stroke="#222" stroke-width="1.2" stroke-linecap="butt"/>
<line x1="315.30" y1="335.14" x2="318.50" y2="335.14" stroke="#2a2a2a" stroke-width="1.1" stroke-linecap="butt"/>
<line x1="315.30" y1="327.48" x2="318.50" y2="327.48" stroke="#2a2a2a" stroke-width="1.1" stroke-linecap="butt"/>
<line x1="315.30" y1="319.82" x2="318.50" y2="319.82" stroke="#2a2a2a" stroke-width="1.1" stroke-linecap="butt"/>
<line x1="315.30" y1="312.16" x2="318.50" y2="312.16" stroke="#2a2a2a" stroke-width="1.1" stroke-linecap="butt"/>
<line x1="312.00" y1="304.50" x2="318.50" y2="304.50" stroke="#222" stroke-width="1.2" stroke-linecap="butt"/>
<line x1="315.30" y1="296.84" x2="318.50" y2="296.84" stroke="#2a2a2a" stroke-width="1.1" stroke-linecap="butt"/>
<line x1="327.50" y1="496.00" x2="327.50" y2="502.00" stroke="#111" stroke-width="1.3" stroke-linecap="butt"/>
<line x1="362.50" y1="496.00" x2="362.50" y2="502.00" stroke="#111" stroke-width="1.3" stroke-linecap="butt"/>
<line x1="398.25" y1="496.00" x2="398.25" y2="502.00" stroke="#111" stroke-width="1.3" stroke-linecap="butt"/>
<line x1="453.50" y1="496.00" x2="453.50" y2="502.00" stroke="#111" stroke-width="1.3" stroke-linecap="butt"/>
<line x1="499.70" y1="496.00" x2="499.70" y2="502.00" stroke="#111" stroke-width="1.3" stroke-linecap="butt"/>
<line x1="359.00" y1="496.00" x2="359.00" y2="499.60" stroke="#222" stroke-width="1.1" stroke-linecap="butt"/>
<line x1="366.07" y1="496.00" x2="366.07" y2="499.60" stroke="#222" stroke-width="1.1" stroke-linecap="butt"/>
<line x1="355.50" y1="496.00" x2="355.50" y2="499.60" stroke="#222" stroke-width="1.1" stroke-linecap="butt"/>
<line x1="369.65" y1="496.00" x2="369.65" y2="499.60" stroke="#222" stroke-width="1.1" stroke-linecap="butt"/>
<line x1="414.88" y1="496.00" x2="414.88" y2="499.60" stroke="#222" stroke-width="1.1" stroke-linecap="butt"/>
<line x1="467.41" y1="496.00" x2="467.41" y2="499.60" stroke="#222" stroke-width="1.1" stroke-linecap="butt"/>
<line x1="352.00" y1="496.00" x2="352.00" y2="499.60" stroke="#222" stroke-width="1.1" stroke-linecap="butt"/>
<line x1="373.23" y1="496.00" x2="373.23" y2="499.60" stroke="#222" stroke-width="1.1" stroke-linecap="butt"/>
<line x1="424.61" y1="496.00" x2="424.61" y2="499.60" stroke="#222" stroke-width="1.1" stroke-linecap="butt"/>
<line x1="475.54" y1="496.00" x2="475.54" y2="499.60" stroke="#222" stroke-width="1.1" stroke-linecap="butt"/>
<line x1="348.50" y1="496.00" x2="348.50" y2="499.60" stroke="#222" stroke-width="1.1" stroke-linecap="butt"/>
<line x1="376.80" y1="496.00" x2="376.80" y2="499.60" stroke="#222" stroke-width="1.1" stroke-linecap="butt"/>
<line x1="431.51" y1="496.00" x2="431.51" y2="499.60" stroke="#222" stroke-width="1.1" stroke-linecap="butt"/>
<line x1="481.32" y1="496.00" x2="481.32" y2="499.60" stroke="#222" stroke-width="1.1" stroke-linecap="butt"/>
<line x1="345.00" y1="496.00" x2="345.00" y2="499.60" stroke="#222" stroke-width="1.1" stroke-linecap="butt"/>
<line x1="380.38" y1="496.00" x2="380.38" y2="499.60" stroke="#222" stroke-width="1.1" stroke-linecap="butt"/>
<line x1="436.87" y1="496.00" x2="436.87" y2="499.60" stroke="#222" stroke-width="1.1" stroke-linecap="butt"/>
<line x1="485.79" y1="496.00" x2="485.79" y2="499.60" stroke="#222" stroke-width="1.1" stroke-linecap="butt"/>
<line x1="341.50" y1="496.00" x2="341.50" y2="499.60" stroke="#222" stroke-width="1.1" stroke-linecap="butt"/>
<line x1="383.95" y1="496.00" x2="383.95" y2="499.60" stroke="#222" stroke-width="1.1" stroke-linecap="butt"/>
<line x1="441.24" y1="496.00" x2="441.24" y2="499.60" stroke="#222" stroke-width="1.1" stroke-linecap="butt"/>
<line x1="489.45" y1="496.00" x2="489.45" y2="499.60" stroke="#222" stroke-width="1.1" stroke-linecap="butt"/>
<line x1="338.00" y1="496.00" x2="338.00" y2="499.60" stroke="#222" stroke-width="1.1" stroke-linecap="butt"/>
<line x1="387.52" y1="496.00" x2="387.52" y2="499.60" stroke="#222" stroke-width="1.1" stroke-linecap="butt"/>
<line x1="444.94" y1="496.00" x2="444.94" y2="499.60" stroke="#222" stroke-width="1.1" stroke-linecap="butt"/>
<line x1="492.54" y1="496.00" x2="492.54" y2="499.60" stroke="#222" stroke-width="1.1" stroke-linecap="butt"/>
<line x1="334.50" y1="496.00" x2="334.50" y2="499.60" stroke="#222" stroke-width="1.1" stroke-linecap="butt"/>
<line x1="391.10" y1="496.00" x2="391.10" y2="499.60" stroke="#222" stroke-width="1.1" stroke-linecap="butt"/>
<line x1="448.15" y1="496.00" x2="448.15" y2="499.60" stroke="#222" stroke-width="1.1" stroke-linecap="butt"/>
<line x1="495.22" y1="496.00" x2="495.22" y2="499.60" stroke="#222" stroke-width="1.1" stroke-linecap="butt"/>
<line x1="331.00" y1="496.00" x2="331.00" y2="499.60" stroke="#222" stroke-width="1.1" stroke-linecap="butt"/>
<line x1="394.68" y1="496.00" x2="394.68" y2="499.60" stroke="#222" stroke-width="1.1" stroke-linecap="butt"/>
<line x1="450.97" y1="496.00" x2="450.97" y2="499.60" stroke="#222" stroke-width="1.1" stroke-linecap="butt"/>
<line x1="497.59" y1="496.00" x2="497.59" y2="499.60" stroke="#222" stroke-width="1.1" stroke-linecap="butt"/>
<line x1="513.61" y1="496.00" x2="513.61" y2="499.60" stroke="#222" stroke-width="1.1" stroke-linecap="butt"/>
<line x1="324.00" y1="496.00" x2="324.00" y2="499.60" stroke="#222" stroke-width="1.1" stroke-linecap="butt"/>
<line x1="320.50" y1="496.00" x2="320.50" y2="499.60" stroke="#222" stroke-width="1.1" stroke-linecap="butt"/>
<rect x="357.50" y="496.00" width="10.20" height="4.20" fill="#111"/>
<line x1="362.50" y1="496.00" x2="362.50" y2="502.00" stroke="#111" stroke-width="1.4" stroke-linecap="butt"/>
<text font-size="13.43" transform="translate(303.95,501.52)" fill="#000">0</text>
<text font-size="13.43" transform="translate(287.17,463.22)" fill="#000">50K</text>
<text font-size="13.43" transform="translate(279.71,424.92)" fill="#000">100K</text>
<text font-size="13.43" transform="translate(279.71,386.62)" fill="#000">150K</text>
<text font-size="13.43" transform="translate(279.71,348.32)" fill="#000">200K</text>
<text font-size="13.43" transform="translate(279.71,310.02)" fill="#000">250K</text>
<text font-size="13.43" transform="translate(315.67,514.67) scale(1.0385,1)" fill="#000">-10</text>
<text font-size="7.92" transform="translate(336.02,510.52) scale(0.9309,1)" fill="#000">3</text>
<text font-size="13.29" transform="translate(360.12,514.67) scale(1.0876,1)" fill="#000">0</text>
<text font-size="13.43" transform="translate(391.33,514.67) scale(0.9146,1)" fill="#000">10</text>
<text font-size="8.48" transform="translate(404.91,510.52) scale(1.0550,1)" fill="#000">3</text>
<text font-size="13.43" transform="translate(441.50,514.67) scale(0.9930,1)" fill="#000">10</text>
<text font-size="8.73" transform="translate(455.95,510.60) scale(0.7715,1)" fill="#000">4</text>
<text font-size="13.43" transform="translate(492.58,514.67) scale(0.9146,1)" fill="#000">10</text>
<text font-size="8.60" transform="translate(506.41,510.51) scale(0.9789,1)" fill="#000">5</text>
<text font-size="15.65" transform="translate(395.46,531.84) scale(1.1156,1)" fill="#000">Ki-67</text>
<text font-size="16.68" transform="translate(278.43,425.97) rotate(-90) scale(1.0675,1)" fill="#000">FSC-A</text>
<rect x="466.30" y="317.20" width="50.20" height="154.30" fill="none" stroke="#222" stroke-width="1.4"/>
<text font-size="12.65" transform="translate(472.30,349.47) scale(1.0547,1)" fill="#000">Ki-67+</text>
<text font-size="13.29" transform="translate(472.91,363.97) scale(0.9300,1)" fill="#000">0</text>
<text font-size="17.13" transform="translate(329.10,290.22) scale(1.0543,1)" fill="#000">CD45+, Fibrin+, no Ab</text>
<text font-weight="bold" font-size="26.50" transform="translate(275.01,291.80)" fill="#000">D</text>
<g filter="url(#soft)" fill="#000" stroke="none">
<ellipse cx="428" cy="137" rx="3.2" ry="8" opacity="0.25"/>
<ellipse cx="452.5" cy="137" rx="3" ry="8" opacity="0.3"/>
<ellipse cx="417" cy="403" rx="5" ry="7.5" opacity="0.5"/>
<ellipse cx="436.5" cy="401" rx="4.2" ry="9" opacity="0.65"/>
</g>
<g filter="url(#soft)" fill="none" stroke="#000">
<path d="M125.5,437 Q126.5,456 150,461.5" stroke-width="4" opacity="0.6"/>
<path d="M164.5,122 L172.5,131.5 L165.5,141" stroke-width="4.2" opacity="0.7" stroke-linejoin="miter"/>
<path d="M191,121.5 L185.8,131.5 L190.5,142" stroke-width="4.2" opacity="0.7" stroke-linejoin="miter"/>
<path d="M133,438.5 Q145,432.5 160,433.5" stroke-width="2.2" opacity="0.5"/>
</g>
<text class="ef" font-weight="bold" font-size="26.50" transform="translate(4.51,561.00)" fill="#000">E</text>
<rect x="47.70" y="570.00" width="3.20" height="193.00" fill="#000"/>
<rect x="47.70" y="760.00" width="202.80" height="3.20" fill="#000"/>
<rect x="44.30" y="760.50" width="4.00" height="3.00" fill="#000"/>
<text class="ef" font-size="15.12" transform="translate(33.67,767.35)" fill="#000">0</text>
<rect x="44.30" y="733.29" width="4.00" height="3.00" fill="#000"/>
<text class="ef" font-size="15.34" transform="translate(33.75,740.29)" fill="#000">2</text>
<rect x="44.30" y="706.07" width="4.00" height="3.00" fill="#000"/>
<text class="ef" font-size="15.56" transform="translate(33.29,713.07)" fill="#000">4</text>
<rect x="44.30" y="678.86" width="4.00" height="3.00" fill="#000"/>
<text class="ef" font-size="15.12" transform="translate(33.75,685.71)" fill="#000">6</text>
<rect x="44.30" y="651.64" width="4.00" height="3.00" fill="#000"/>
<text class="ef" font-size="15.12" transform="translate(33.75,658.49)" fill="#000">8</text>
<rect x="44.30" y="624.43" width="4.00" height="3.00" fill="#000"/>
<text class="ef" font-size="15.12" transform="translate(25.28,631.28)" fill="#000">10</text>
<rect x="44.30" y="597.21" width="4.00" height="3.00" fill="#000"/>
<text class="ef" font-size="15.34" transform="translate(25.24,604.21)" fill="#000">12</text>
<rect x="44.30" y="570.00" width="4.00" height="3.00" fill="#000"/>
<text class="ef" font-size="15.56" transform="translate(24.65,577.00)" fill="#000">14</text>
<text class="ef" font-size="19.95" transform="translate(15.66,735.98) rotate(-90) scale(1.0216,1)" fill="#000">Ki-67+ cells (%)</text>
<rect x="58.75" y="754.75" width="48.15" height="6.00" fill="#000"/>
<rect x="71.25" y="751.00" width="22.50" height="4.50" fill="#000"/>
<circle cx="61.5" cy="758.2" r="0.85" fill="#8a8a8a"/>
<circle cx="69.6" cy="758.2" r="0.85" fill="#8a8a8a"/>
<circle cx="77.7" cy="758.2" r="0.85" fill="#8a8a8a"/>
<circle cx="85.8" cy="758.2" r="0.85" fill="#8a8a8a"/>
<circle cx="93.9" cy="758.2" r="0.85" fill="#8a8a8a"/>
<circle cx="102.0" cy="758.2" r="0.85" fill="#8a8a8a"/>
<rect x="127.0" y="735.25" width="43.25" height="26" fill="#d2d2d2" stroke="#000" stroke-width="3"/>
<rect x="147.25" y="717.50" width="3.00" height="16.50" fill="#000"/>
<rect x="137.50" y="716.00" width="23.25" height="3.00" fill="#000"/>
<rect x="191.70" y="643.60" width="48.60" height="118.00" fill="#000"/>
<rect x="214.50" y="586.00" width="3.00" height="60.00" fill="#000"/>
<rect x="205.00" y="584.50" width="22.00" height="3.00" fill="#000"/>
<rect x="80.00" y="683.50" width="71.25" height="3.00" fill="#000"/>
<rect x="80.00" y="683.50" width="3.00" height="7.75" fill="#000"/>
<rect x="148.25" y="683.50" width="3.00" height="7.75" fill="#000"/>
<text class="ef" font-weight="bold" font-size="16.02" transform="translate(83.44,675.68) scale(1.0222,1)" fill="#000">p &lt; 0.01</text>
<text class="ef" font-size="15.37" transform="translate(58.42,779.45) scale(1.0905,1)" fill="#000">Fibrin+</text>
<text class="ef" font-size="15.37" transform="translate(126.39,779.45) scale(1.1085,1)" fill="#000">Fibrin-</text>
<text class="ef" font-size="15.44" transform="translate(190.74,779.50) scale(1.0935,1)" fill="#000">Spleen</text>
<rect x="58.80" y="791.20" width="112.20" height="2.60" fill="#000"/>
<text class="ef" font-size="24.35" transform="translate(93.27,816.76) scale(1.0271,1)" fill="#000">Skin</text>
<text class="ef" font-weight="bold" font-size="26.50" transform="translate(275.11,560.60)" fill="#000">F</text>
<rect x="322.30" y="570.80" width="3.80" height="193.00" fill="#000"/>
<rect x="322.30" y="760.00" width="196.70" height="3.70" fill="#000"/>
<rect x="318.50" y="760.40" width="4.50" height="3.20" fill="#000"/>
<text class="ef" font-size="15.55" transform="translate(296.62,767.34) scale(0.9311,1)" fill="#000">0.0</text>
<rect x="318.50" y="700.90" width="4.50" height="3.20" fill="#000"/>
<text class="ef" font-size="15.55" transform="translate(296.62,707.84) scale(0.9329,1)" fill="#000">0.5</text>
<rect x="318.50" y="641.40" width="4.50" height="3.20" fill="#000"/>
<text class="ef" font-size="15.55" transform="translate(296.08,648.34) scale(0.9566,1)" fill="#000">1.0</text>
<rect x="318.50" y="581.90" width="4.50" height="3.20" fill="#000"/>
<text class="ef" font-size="15.77" transform="translate(296.08,588.84) scale(0.9449,1)" fill="#000">1.5</text>
<text class="ef" font-size="19.73" transform="translate(289.50,735.17) rotate(-90) scale(1.0271,1)" fill="#000">Fold difference</text>
<rect x="352.65" y="621.00" width="3.50" height="21.70" fill="#000"/>
<rect x="347.10" y="619.15" width="14.40" height="3.70" fill="#000"/>
<rect x="340.50" y="643.50" width="27.70" height="117.00" fill="#d2d2d2" stroke="#000" stroke-width="3.6" stroke-linejoin="round"/>
<rect x="389.25" y="591.00" width="3.50" height="51.70" fill="#000"/>
<rect x="383.80" y="589.15" width="13.90" height="3.70" fill="#000"/>
<rect x="377.20" y="643.50" width="28.00" height="117.00" fill="url(#hatch)" stroke="#000" stroke-width="3.6" stroke-linejoin="round"/>
<rect x="449.55" y="608.30" width="3.50" height="34.40" fill="#000"/>
<rect x="444.00" y="606.45" width="14.50" height="3.70" fill="#000"/>
<rect x="437.80" y="643.50" width="27.50" height="117.00" fill="#d2d2d2" stroke="#000" stroke-width="3.6" stroke-linejoin="round"/>
<rect x="485.95" y="623.80" width="3.50" height="48.50" fill="#000"/>
<rect x="480.60" y="621.95" width="14.40" height="3.70" fill="#000"/>
<rect x="474.10" y="673.10" width="27.80" height="87.40" fill="url(#hatch)" stroke="#000" stroke-width="3.6" stroke-linejoin="round"/>
<rect x="322.30" y="760.00" width="196.70" height="3.70" fill="#000"/>
<text class="ef" font-size="15.05" transform="translate(355.73,780.45) scale(1.0970,1)" fill="#000">uPA</text>
<text class="ef" font-size="14.77" transform="translate(447.00,780.45) scale(1.1449,1)" fill="#000">uPAR</text>
<rect x="315.65" y="788.85" width="23.9" height="10.3" fill="#d2d2d2" stroke="#000" stroke-width="2.7"/>
<rect x="315.65" y="808.15" width="23.9" height="10.0" fill="url(#hatch2)" stroke="#000" stroke-width="2.7"/>
<text class="ef" font-size="14.19" transform="translate(343.51,799.79) scale(1.1200,1)" fill="#000">CD45+, Fibrin-</text>
<text class="ef" font-size="14.78" transform="translate(343.51,818.12) scale(1.0632,1)" fill="#000">CD45+, CCR2+, Fibrin+</text>
</svg>
</body></html>
